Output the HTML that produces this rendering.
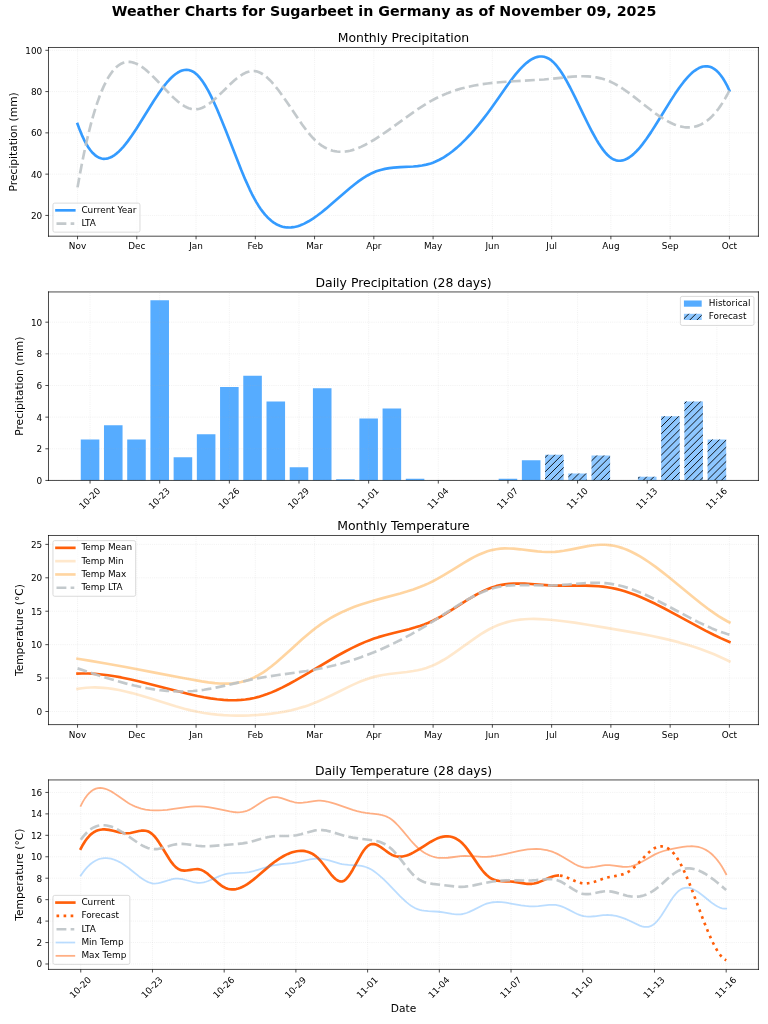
<!DOCTYPE html>
<html lang="en"><head><meta charset="utf-8"><title>Weather Charts for Sugarbeet in Germany</title>
<style>html,body{margin:0;padding:0;background:#fff;font-family:"DejaVu Sans","Liberation Sans",sans-serif}svg{display:block;will-change:transform}</style></head>
<body>
<svg width="768" height="1024" viewBox="0 0 864 1152">
 
 <defs>
  <style type="text/css">*{stroke-linejoin: round; stroke-linecap: butt}</style>
 </defs>
 <g id="figure_1">
  <g id="patch_1">
   <path d="M 0 1152  L 864 1152  L 864 0  L 0 0  z
" style="fill: #ffffff"/>
  </g>
  <g id="axes_1">
   <g id="patch_2">
    <path d="M 54.56 265.72  L 853.25 265.72  L 853.25 53.43  L 54.56 53.43  z
" style="fill: #ffffff"/>
   </g>
   <g id="matplotlib.axis_1">
    <g id="xtick_1">
     <g id="line2d_1">
      <path d="M 87.23 265.72  L 87.23 53.43 
" clip-path="url(#p1e38fe8f11)" style="fill: none; stroke-dasharray: 0.8,1.32; stroke-dashoffset: 0; stroke: #b0b0b0; stroke-opacity: 0.3; stroke-width: 0.8"/>
     </g>
     <g id="line2d_2">
      
      <g>
       <path d="M 0 0  L 0 3.5" transform="translate(87.23 265.72)" style="stroke: #000000; stroke-width: 0.8"/>
      </g>
     </g>
     <g id="text_1">
      <text style="font-size: 10px; font-family: 'DejaVu Sans', 'Liberation Sans', sans-serif; text-anchor: middle" x="87.23" y="280.32" transform="rotate(-0 87.23 280.32)" textLength="19.52">Nov</text>
     </g>
    </g>
    <g id="xtick_2">
     <g id="line2d_3">
      <path d="M 153.89 265.72  L 153.89 53.43 
" clip-path="url(#p1e38fe8f11)" style="fill: none; stroke-dasharray: 0.8,1.32; stroke-dashoffset: 0; stroke: #b0b0b0; stroke-opacity: 0.3; stroke-width: 0.8"/>
     </g>
     <g id="line2d_4">
      <g>
       <path d="M 0 0  L 0 3.5" transform="translate(153.89 265.72)" style="stroke: #000000; stroke-width: 0.8"/>
      </g>
     </g>
     <g id="text_2">
      <text style="font-size: 10px; font-family: 'DejaVu Sans', 'Liberation Sans', sans-serif; text-anchor: middle" x="153.89" y="280.32" transform="rotate(-0 153.89 280.32)" textLength="19.35">Dec</text>
     </g>
    </g>
    <g id="xtick_3">
     <g id="line2d_5">
      <path d="M 220.56 265.72  L 220.56 53.43 
" clip-path="url(#p1e38fe8f11)" style="fill: none; stroke-dasharray: 0.8,1.32; stroke-dashoffset: 0; stroke: #b0b0b0; stroke-opacity: 0.3; stroke-width: 0.8"/>
     </g>
     <g id="line2d_6">
      <g>
       <path d="M 0 0  L 0 3.5" transform="translate(220.56 265.72)" style="stroke: #000000; stroke-width: 0.8"/>
      </g>
     </g>
     <g id="text_3">
      <text style="font-size: 10px; font-family: 'DejaVu Sans', 'Liberation Sans', sans-serif; text-anchor: middle" x="220.56" y="280.32" transform="rotate(-0 220.56 280.32)" textLength="15.42">Jan</text>
     </g>
    </g>
    <g id="xtick_4">
     <g id="line2d_7">
      <path d="M 287.23 265.72  L 287.23 53.43 
" clip-path="url(#p1e38fe8f11)" style="fill: none; stroke-dasharray: 0.8,1.32; stroke-dashoffset: 0; stroke: #b0b0b0; stroke-opacity: 0.3; stroke-width: 0.8"/>
     </g>
     <g id="line2d_8">
      <g>
       <path d="M 0 0  L 0 3.5" transform="translate(287.23 265.72)" style="stroke: #000000; stroke-width: 0.8"/>
      </g>
     </g>
     <g id="text_4">
      <text style="font-size: 10px; font-family: 'DejaVu Sans', 'Liberation Sans', sans-serif; text-anchor: middle" x="287.23" y="280.32" transform="rotate(-0 287.23 280.32)" textLength="17.71">Feb</text>
     </g>
    </g>
    <g id="xtick_5">
     <g id="line2d_9">
      <path d="M 353.90 265.72  L 353.90 53.43 
" clip-path="url(#p1e38fe8f11)" style="fill: none; stroke-dasharray: 0.8,1.32; stroke-dashoffset: 0; stroke: #b0b0b0; stroke-opacity: 0.3; stroke-width: 0.8"/>
     </g>
     <g id="line2d_10">
      <g>
       <path d="M 0 0  L 0 3.5" transform="translate(353.90 265.72)" style="stroke: #000000; stroke-width: 0.8"/>
      </g>
     </g>
     <g id="text_5">
      <text style="font-size: 10px; font-family: 'DejaVu Sans', 'Liberation Sans', sans-serif; text-anchor: middle" x="353.90" y="280.32" transform="rotate(-0 353.90 280.32)" textLength="18.87">Mar</text>
     </g>
    </g>
    <g id="xtick_6">
     <g id="line2d_11">
      <path d="M 420.57 265.72  L 420.57 53.43 
" clip-path="url(#p1e38fe8f11)" style="fill: none; stroke-dasharray: 0.8,1.32; stroke-dashoffset: 0; stroke: #b0b0b0; stroke-opacity: 0.3; stroke-width: 0.8"/>
     </g>
     <g id="line2d_12">
      <g>
       <path d="M 0 0  L 0 3.5" transform="translate(420.57 265.72)" style="stroke: #000000; stroke-width: 0.8"/>
      </g>
     </g>
     <g id="text_6">
      <text style="font-size: 10px; font-family: 'DejaVu Sans', 'Liberation Sans', sans-serif; text-anchor: middle" x="420.57" y="280.32" transform="rotate(-0 420.57 280.32)" textLength="17.30">Apr</text>
     </g>
    </g>
    <g id="xtick_7">
     <g id="line2d_13">
      <path d="M 487.24 265.72  L 487.24 53.43 
" clip-path="url(#p1e38fe8f11)" style="fill: none; stroke-dasharray: 0.8,1.32; stroke-dashoffset: 0; stroke: #b0b0b0; stroke-opacity: 0.3; stroke-width: 0.8"/>
     </g>
     <g id="line2d_14">
      <g>
       <path d="M 0 0  L 0 3.5" transform="translate(487.24 265.72)" style="stroke: #000000; stroke-width: 0.8"/>
      </g>
     </g>
     <g id="text_7">
      <text style="font-size: 10px; font-family: 'DejaVu Sans', 'Liberation Sans', sans-serif; text-anchor: middle" x="487.24" y="280.32" transform="rotate(-0 487.24 280.32)" textLength="20.67">May</text>
     </g>
    </g>
    <g id="xtick_8">
     <g id="line2d_15">
      <path d="M 553.91 265.72  L 553.91 53.43 
" clip-path="url(#p1e38fe8f11)" style="fill: none; stroke-dasharray: 0.8,1.32; stroke-dashoffset: 0; stroke: #b0b0b0; stroke-opacity: 0.3; stroke-width: 0.8"/>
     </g>
     <g id="line2d_16">
      <g>
       <path d="M 0 0  L 0 3.5" transform="translate(553.91 265.72)" style="stroke: #000000; stroke-width: 0.8"/>
      </g>
     </g>
     <g id="text_8">
      <text style="font-size: 10px; font-family: 'DejaVu Sans', 'Liberation Sans', sans-serif; text-anchor: middle" x="553.91" y="280.32" transform="rotate(-0 553.91 280.32)" textLength="15.63">Jun</text>
     </g>
    </g>
    <g id="xtick_9">
     <g id="line2d_17">
      <path d="M 620.58 265.72  L 620.58 53.43 
" clip-path="url(#p1e38fe8f11)" style="fill: none; stroke-dasharray: 0.8,1.32; stroke-dashoffset: 0; stroke: #b0b0b0; stroke-opacity: 0.3; stroke-width: 0.8"/>
     </g>
     <g id="line2d_18">
      <g>
       <path d="M 0 0  L 0 3.5" transform="translate(620.58 265.72)" style="stroke: #000000; stroke-width: 0.8"/>
      </g>
     </g>
     <g id="text_9">
      <text style="font-size: 10px; font-family: 'DejaVu Sans', 'Liberation Sans', sans-serif; text-anchor: middle" x="620.58" y="280.32" transform="rotate(-0 620.58 280.32)" textLength="12.07">Jul</text>
     </g>
    </g>
    <g id="xtick_10">
     <g id="line2d_19">
      <path d="M 687.25 265.72  L 687.25 53.43 
" clip-path="url(#p1e38fe8f11)" style="fill: none; stroke-dasharray: 0.8,1.32; stroke-dashoffset: 0; stroke: #b0b0b0; stroke-opacity: 0.3; stroke-width: 0.8"/>
     </g>
     <g id="line2d_20">
      <g>
       <path d="M 0 0  L 0 3.5" transform="translate(687.25 265.72)" style="stroke: #000000; stroke-width: 0.8"/>
      </g>
     </g>
     <g id="text_10">
      <text style="font-size: 10px; font-family: 'DejaVu Sans', 'Liberation Sans', sans-serif; text-anchor: middle" x="687.25" y="280.32" transform="rotate(-0 687.25 280.32)" textLength="19.53">Aug</text>
     </g>
    </g>
    <g id="xtick_11">
     <g id="line2d_21">
      <path d="M 753.91 265.72  L 753.91 53.43 
" clip-path="url(#p1e38fe8f11)" style="fill: none; stroke-dasharray: 0.8,1.32; stroke-dashoffset: 0; stroke: #b0b0b0; stroke-opacity: 0.3; stroke-width: 0.8"/>
     </g>
     <g id="line2d_22">
      <g>
       <path d="M 0 0  L 0 3.5" transform="translate(753.91 265.72)" style="stroke: #000000; stroke-width: 0.8"/>
      </g>
     </g>
     <g id="text_11">
      <text style="font-size: 10px; font-family: 'DejaVu Sans', 'Liberation Sans', sans-serif; text-anchor: middle" x="753.91" y="280.32" transform="rotate(-0 753.91 280.32)" textLength="18.85">Sep</text>
     </g>
    </g>
    <g id="xtick_12">
     <g id="line2d_23">
      <path d="M 820.58 265.72  L 820.58 53.43 
" clip-path="url(#p1e38fe8f11)" style="fill: none; stroke-dasharray: 0.8,1.32; stroke-dashoffset: 0; stroke: #b0b0b0; stroke-opacity: 0.3; stroke-width: 0.8"/>
     </g>
     <g id="line2d_24">
      <g>
       <path d="M 0 0  L 0 3.5" transform="translate(820.58 265.72)" style="stroke: #000000; stroke-width: 0.8"/>
      </g>
     </g>
     <g id="text_12">
      <text style="font-size: 10px; font-family: 'DejaVu Sans', 'Liberation Sans', sans-serif; text-anchor: middle" x="820.58" y="280.32" transform="rotate(-0 820.58 280.32)" textLength="17.29">Oct</text>
     </g>
    </g>
   </g>
   <g id="matplotlib.axis_2">
    <g id="ytick_1">
     <g id="line2d_25">
      <path d="M 54.56 242.36  L 853.25 242.36 
" clip-path="url(#p1e38fe8f11)" style="fill: none; stroke-dasharray: 0.8,1.32; stroke-dashoffset: 0; stroke: #b0b0b0; stroke-opacity: 0.3; stroke-width: 0.8"/>
     </g>
     <g id="line2d_26">
      
      <g>
       <path d="M 0 0  L -3.5 0" transform="translate(54.56 242.36)" style="stroke: #000000; stroke-width: 0.8"/>
      </g>
     </g>
     <g id="text_13">
      <text style="font-size: 10px; font-family: 'DejaVu Sans', 'Liberation Sans', sans-serif; text-anchor: end" x="47.56" y="246.16" transform="rotate(-0 47.56 246.16)" textLength="12.72">20</text>
     </g>
    </g>
    <g id="ytick_2">
     <g id="line2d_27">
      <path d="M 54.56 195.92  L 853.25 195.92 
" clip-path="url(#p1e38fe8f11)" style="fill: none; stroke-dasharray: 0.8,1.32; stroke-dashoffset: 0; stroke: #b0b0b0; stroke-opacity: 0.3; stroke-width: 0.8"/>
     </g>
     <g id="line2d_28">
      <g>
       <path d="M 0 0  L -3.5 0" transform="translate(54.56 195.92)" style="stroke: #000000; stroke-width: 0.8"/>
      </g>
     </g>
     <g id="text_14">
      <text style="font-size: 10px; font-family: 'DejaVu Sans', 'Liberation Sans', sans-serif; text-anchor: end" x="47.56" y="199.72" transform="rotate(-0 47.56 199.72)" textLength="12.72">40</text>
     </g>
    </g>
    <g id="ytick_3">
     <g id="line2d_29">
      <path d="M 54.56 149.48  L 853.25 149.48 
" clip-path="url(#p1e38fe8f11)" style="fill: none; stroke-dasharray: 0.8,1.32; stroke-dashoffset: 0; stroke: #b0b0b0; stroke-opacity: 0.3; stroke-width: 0.8"/>
     </g>
     <g id="line2d_30">
      <g>
       <path d="M 0 0  L -3.5 0" transform="translate(54.56 149.48)" style="stroke: #000000; stroke-width: 0.8"/>
      </g>
     </g>
     <g id="text_15">
      <text style="font-size: 10px; font-family: 'DejaVu Sans', 'Liberation Sans', sans-serif; text-anchor: end" x="47.56" y="153.27" transform="rotate(-0 47.56 153.27)" textLength="12.72">60</text>
     </g>
    </g>
    <g id="ytick_4">
     <g id="line2d_31">
      <path d="M 54.56 103.03  L 853.25 103.03 
" clip-path="url(#p1e38fe8f11)" style="fill: none; stroke-dasharray: 0.8,1.32; stroke-dashoffset: 0; stroke: #b0b0b0; stroke-opacity: 0.3; stroke-width: 0.8"/>
     </g>
     <g id="line2d_32">
      <g>
       <path d="M 0 0  L -3.5 0" transform="translate(54.56 103.03)" style="stroke: #000000; stroke-width: 0.8"/>
      </g>
     </g>
     <g id="text_16">
      <text style="font-size: 10px; font-family: 'DejaVu Sans', 'Liberation Sans', sans-serif; text-anchor: end" x="47.56" y="106.83" transform="rotate(-0 47.56 106.83)" textLength="12.72">80</text>
     </g>
    </g>
    <g id="ytick_5">
     <g id="line2d_33">
      <path d="M 54.56 56.59  L 853.25 56.59 
" clip-path="url(#p1e38fe8f11)" style="fill: none; stroke-dasharray: 0.8,1.32; stroke-dashoffset: 0; stroke: #b0b0b0; stroke-opacity: 0.3; stroke-width: 0.8"/>
     </g>
     <g id="line2d_34">
      <g>
       <path d="M 0 0  L -3.5 0" transform="translate(54.56 56.59)" style="stroke: #000000; stroke-width: 0.8"/>
      </g>
     </g>
     <g id="text_17">
      <text style="font-size: 10px; font-family: 'DejaVu Sans', 'Liberation Sans', sans-serif; text-anchor: end" x="47.56" y="60.39" transform="rotate(-0 47.56 60.39)" textLength="19.09">100</text>
     </g>
    </g>
    <g id="text_18">
     <text style="font-size: 12px; font-family: 'DejaVu Sans', 'Liberation Sans', sans-serif; text-anchor: middle" x="18.97" y="159.58" transform="rotate(-90 18.97 159.58)" textLength="111.57">Precipitation (mm)</text>
    </g>
   </g>
   <g id="line2d_35">
    <path d="M 87.23 139.49  L 89.68 146.09  L 92.13 152.00  L 94.58 157.26  L 97.04 161.88  L 99.49 165.89  L 101.94 169.31  L 104.39 172.16  L 106.85 174.47  L 109.30 176.25  L 111.75 177.54  L 114.21 178.35  L 116.66 178.70  L 119.11 178.62  L 121.56 178.14  L 124.02 177.26  L 126.47 176.02  L 128.92 174.44  L 131.37 172.54  L 133.83 170.35  L 136.28 167.88  L 138.73 165.16  L 141.18 162.21  L 143.64 159.06  L 148.54 152.22  L 153.45 144.83  L 160.81 133.10  L 173.07 113.35  L 177.98 105.91  L 182.88 98.99  L 185.33 95.79  L 187.79 92.79  L 190.24 90.02  L 192.69 87.49  L 195.14 85.22  L 197.60 83.25  L 200.05 81.59  L 202.50 80.27  L 204.96 79.31  L 207.41 78.73  L 209.86 78.55  L 212.31 78.80  L 214.77 79.50  L 217.22 80.67  L 219.67 82.33  L 222.12 84.51  L 224.58 87.19  L 227.03 90.35  L 229.48 93.94  L 231.93 97.94  L 234.39 102.32  L 236.84 107.03  L 239.29 112.06  L 244.20 122.91  L 249.10 134.60  L 254.01 146.88  L 271.18 190.71  L 276.08 202.40  L 280.99 213.24  L 283.44 218.27  L 285.89 222.98  L 288.35 227.35  L 290.80 231.37  L 293.25 235.04  L 295.71 238.38  L 298.16 241.40  L 300.61 244.09  L 303.06 246.49  L 305.52 248.59  L 307.97 250.40  L 310.42 251.94  L 312.87 253.22  L 315.33 254.24  L 317.78 255.02  L 320.23 255.56  L 322.68 255.88  L 325.14 255.98  L 327.59 255.88  L 330.04 255.59  L 332.50 255.12  L 334.95 254.46  L 337.40 253.65  L 339.85 252.68  L 342.31 251.57  L 347.21 248.96  L 352.12 245.89  L 357.02 242.45  L 361.93 238.71  L 366.83 234.73  L 374.19 228.46  L 393.81 211.49  L 398.72 207.54  L 403.62 203.83  L 408.53 200.44  L 413.43 197.42  L 418.34 194.84  L 420.79 193.73  L 423.25 192.76  L 428.15 191.17  L 433.06 190.00  L 437.96 189.17  L 442.87 188.60  L 450.23 188.08  L 464.94 187.32  L 469.85 186.86  L 474.75 186.18  L 479.66 185.20  L 484.56 183.84  L 487.02 183.00  L 489.47 182.03  L 494.37 179.74  L 499.28 176.98  L 504.18 173.77  L 509.09 170.13  L 514.00 166.08  L 518.90 161.63  L 523.81 156.81  L 528.71 151.62  L 533.62 146.09  L 538.52 140.24  L 543.43 134.08  L 548.33 127.64  L 553.24 120.92  L 560.60 110.44  L 570.41 96.41  L 575.31 89.73  L 580.22 83.47  L 585.12 77.79  L 587.58 75.22  L 590.03 72.85  L 592.48 70.71  L 594.93 68.80  L 597.39 67.16  L 599.84 65.80  L 602.29 64.74  L 604.75 63.99  L 607.20 63.59  L 609.65 63.55  L 612.10 63.88  L 614.56 64.61  L 617.01 65.75  L 619.46 67.33  L 621.91 69.37  L 624.37 71.85  L 626.82 74.73  L 629.27 78.00  L 631.73 81.60  L 634.18 85.51  L 636.63 89.69  L 641.54 98.72  L 646.44 108.41  L 656.25 128.67  L 661.16 138.68  L 666.06 148.24  L 670.97 157.07  L 673.42 161.12  L 675.87 164.88  L 678.33 168.33  L 680.78 171.41  L 683.23 174.10  L 685.68 176.37  L 688.14 178.17  L 690.59 179.50  L 693.04 180.38  L 695.50 180.82  L 697.95 180.84  L 700.40 180.47  L 702.85 179.72  L 705.31 178.62  L 707.76 177.18  L 710.21 175.43  L 712.66 173.39  L 715.12 171.07  L 717.57 168.50  L 720.02 165.70  L 722.48 162.69  L 727.38 156.10  L 732.29 148.92  L 737.19 141.29  L 744.55 129.38  L 754.36 113.47  L 759.27 105.87  L 764.17 98.73  L 769.08 92.20  L 771.53 89.22  L 773.98 86.46  L 776.43 83.93  L 778.89 81.65  L 781.34 79.65  L 783.79 77.95  L 786.25 76.57  L 788.70 75.52  L 791.15 74.83  L 793.60 74.52  L 796.06 74.61  L 798.51 75.11  L 800.96 76.06  L 803.41 77.46  L 805.87 79.35  L 808.32 81.73  L 810.77 84.64  L 813.23 88.08  L 815.68 92.09  L 818.13 96.68  L 820.58 101.87  L 820.58 101.87 
" clip-path="url(#p1e38fe8f11)" style="fill: none; stroke: #1e90ff; stroke-opacity: 0.9; stroke-width: 3; stroke-linecap: square"/>
   </g>
   <g id="line2d_36">
    <path d="M 87.23 210.78  L 89.68 197.07  L 92.13 184.22  L 94.58 172.18  L 97.04 160.94  L 99.49 150.49  L 101.94 140.78  L 104.39 131.81  L 106.85 123.55  L 109.30 115.98  L 111.75 109.07  L 114.21 102.81  L 116.66 97.17  L 119.11 92.12  L 121.56 87.65  L 124.02 83.74  L 126.47 80.35  L 128.92 77.47  L 131.37 75.08  L 133.83 73.15  L 136.28 71.67  L 138.73 70.60  L 141.18 69.92  L 143.64 69.62  L 146.09 69.68  L 148.54 70.06  L 151.00 70.74  L 153.45 71.71  L 155.90 72.94  L 158.35 74.41  L 160.81 76.10  L 163.26 77.98  L 165.71 80.03  L 170.62 84.55  L 175.52 89.50  L 192.69 107.47  L 197.60 112.06  L 200.05 114.15  L 202.50 116.08  L 204.96 117.82  L 207.41 119.34  L 209.86 120.64  L 212.31 121.68  L 214.77 122.44  L 217.22 122.90  L 219.67 123.04  L 222.12 122.83  L 224.58 122.29  L 227.03 121.44  L 229.48 120.31  L 231.93 118.93  L 234.39 117.32  L 236.84 115.51  L 239.29 113.53  L 244.20 109.17  L 249.10 104.45  L 258.91 94.82  L 263.82 90.36  L 266.27 88.31  L 268.73 86.41  L 271.18 84.71  L 273.63 83.21  L 276.08 81.96  L 278.54 80.97  L 280.99 80.28  L 283.44 79.91  L 285.89 79.90  L 288.35 80.26  L 290.80 81.00  L 293.25 82.10  L 295.71 83.53  L 298.16 85.28  L 300.61 87.31  L 303.06 89.61  L 305.52 92.15  L 307.97 94.91  L 312.87 101.00  L 317.78 107.67  L 322.68 114.76  L 339.85 140.05  L 344.76 146.65  L 347.21 149.72  L 349.66 152.62  L 352.12 155.32  L 354.57 157.79  L 357.02 160.02  L 359.48 162.02  L 361.93 163.79  L 364.38 165.34  L 366.83 166.68  L 369.29 167.82  L 371.74 168.76  L 374.19 169.51  L 376.64 170.07  L 379.10 170.46  L 381.55 170.69  L 384.00 170.75  L 386.46 170.65  L 388.91 170.41  L 391.36 170.03  L 393.81 169.52  L 396.27 168.89  L 401.17 167.27  L 406.08 165.23  L 410.98 162.85  L 415.89 160.16  L 420.79 157.23  L 428.15 152.50  L 435.51 147.47  L 445.32 140.46  L 464.94 126.35  L 472.30 121.36  L 479.66 116.69  L 484.56 113.80  L 489.47 111.14  L 494.37 108.71  L 499.28 106.50  L 504.18 104.50  L 509.09 102.70  L 514.00 101.08  L 518.90 99.64  L 526.26 97.77  L 533.62 96.22  L 540.98 94.95  L 548.33 93.92  L 555.69 93.10  L 565.50 92.23  L 577.77 91.43  L 612.10 89.39  L 621.91 88.50  L 643.99 86.21  L 651.35 85.80  L 656.25 85.75  L 661.16 85.91  L 666.06 86.34  L 670.97 87.06  L 675.87 88.13  L 680.78 89.57  L 685.68 91.43  L 690.59 93.75  L 695.50 96.49  L 700.40 99.58  L 705.31 102.97  L 712.66 108.46  L 724.93 118.10  L 732.29 123.81  L 737.19 127.46  L 742.10 130.89  L 747.00 134.03  L 751.91 136.83  L 756.81 139.22  L 759.27 140.24  L 761.72 141.12  L 764.17 141.87  L 766.62 142.48  L 769.08 142.93  L 771.53 143.22  L 773.98 143.33  L 776.43 143.27  L 778.89 143.02  L 781.34 142.57  L 783.79 141.92  L 786.25 141.05  L 788.70 139.97  L 791.15 138.65  L 793.60 137.10  L 796.06 135.30  L 798.51 133.24  L 800.96 130.92  L 803.41 128.33  L 805.87 125.46  L 808.32 122.30  L 810.77 118.84  L 813.23 115.08  L 815.68 111.00  L 818.13 106.60  L 820.58 101.87  L 820.58 101.87 
" clip-path="url(#p1e38fe8f11)" style="fill: none; stroke-dasharray: 11.1,4.8; stroke-dashoffset: 0; stroke: #bdc3c7; stroke-opacity: 0.9; stroke-width: 3"/>
   </g>
   <g id="patch_3">
    <path d="M 54.56 265.72  L 54.56 53.43 
" style="fill: none; stroke: #000000; stroke-width: 0.8; stroke-linejoin: miter; stroke-linecap: square"/>
   </g>
   <g id="patch_4">
    <path d="M 853.25 265.72  L 853.25 53.43 
" style="fill: none; stroke: #000000; stroke-width: 0.8; stroke-linejoin: miter; stroke-linecap: square"/>
   </g>
   <g id="patch_5">
    <path d="M 54.56 265.72  L 853.25 265.72 
" style="fill: none; stroke: #000000; stroke-width: 0.8; stroke-linejoin: miter; stroke-linecap: square"/>
   </g>
   <g id="patch_6">
    <path d="M 54.56 53.43  L 853.25 53.43 
" style="fill: none; stroke: #000000; stroke-width: 0.8; stroke-linejoin: miter; stroke-linecap: square"/>
   </g>
   <g id="text_19">
    <text style="font-size: 14px; font-family: 'DejaVu Sans', 'Liberation Sans', sans-serif; text-anchor: middle" x="453.90" y="47.43" transform="rotate(-0 453.90 47.43)" textLength="148.01">Monthly Precipitation</text>
   </g>
   <g id="legend_1">
    <g id="patch_7">
     <path d="M 61.56 261.17  L 155.46 261.17 
Q 157.46 261.17 157.46 259.17  L 157.46 230.51 
Q 157.46 228.51 155.46 228.51  L 61.56 228.51 
Q 59.56 228.51 59.56 230.51  L 59.56 259.17 
Q 59.56 261.17 61.56 261.17  z
" style="fill: #ffffff; opacity: 0.8; stroke: #cccccc; stroke-linejoin: miter"/>
    </g>
    <g id="line2d_37">
     <path d="M 63.56 236.61  L 73.56 236.61  L 83.56 236.61 
" style="fill: none; stroke: #1e90ff; stroke-opacity: 0.9; stroke-width: 3; stroke-linecap: square"/>
    </g>
    <g id="text_20">
     <text style="font-size: 10px; font-family: 'DejaVu Sans', 'Liberation Sans', sans-serif; text-anchor: start" x="91.56" y="239.32" transform="rotate(-0 91.56 240.11)" textLength="61.91">Current Year</text>
    </g>
    <g id="line2d_38">
     <path d="M 63.56 251.59  L 73.56 251.59  L 83.56 251.59 
" style="fill: none; stroke-dasharray: 11.1,4.8; stroke-dashoffset: 0; stroke: #bdc3c7; stroke-opacity: 0.9; stroke-width: 3"/>
    </g>
    <g id="text_21">
     <text style="font-size: 10px; font-family: 'DejaVu Sans', 'Liberation Sans', sans-serif; text-anchor: start" x="91.56" y="254.30" transform="rotate(-0 91.56 255.09)" textLength="16.37">LTA</text>
    </g>
   </g>
  </g>
  <g id="axes_2">
   <g id="patch_8">
    <path d="M 54.56 540.50  L 853.25 540.50  L 853.25 328.44  L 54.56 328.44  z
" style="fill: #ffffff"/>
   </g>
   <g id="patch_9">
    <path d="M 90.86 540.50  L 111.76 540.50  L 111.76 494.39  L 90.86 494.39  z
" clip-path="url(#p7bbfe27c33)" style="fill: #1e90ff; opacity: 0.75"/>
   </g>
   <g id="patch_10">
    <path d="M 116.98 540.50  L 137.87 540.50  L 137.87 478.54  L 116.98 478.54  z
" clip-path="url(#p7bbfe27c33)" style="fill: #1e90ff; opacity: 0.75"/>
   </g>
   <g id="patch_11">
    <path d="M 143.10 540.50  L 163.99 540.50  L 163.99 494.39  L 143.10 494.39  z
" clip-path="url(#p7bbfe27c33)" style="fill: #1e90ff; opacity: 0.75"/>
   </g>
   <g id="patch_12">
    <path d="M 169.22 540.50  L 190.11 540.50  L 190.11 337.70  L 169.22 337.70  z
" clip-path="url(#p7bbfe27c33)" style="fill: #1e90ff; opacity: 0.75"/>
   </g>
   <g id="patch_13">
    <path d="M 195.33 540.50  L 216.23 540.50  L 216.23 514.33  L 195.33 514.33  z
" clip-path="url(#p7bbfe27c33)" style="fill: #1e90ff; opacity: 0.75"/>
   </g>
   <g id="patch_14">
    <path d="M 221.45 540.50  L 242.35 540.50  L 242.35 488.51  L 221.45 488.51  z
" clip-path="url(#p7bbfe27c33)" style="fill: #1e90ff; opacity: 0.75"/>
   </g>
   <g id="patch_15">
    <path d="M 247.57 540.50  L 268.47 540.50  L 268.47 435.45  L 247.57 435.45  z
" clip-path="url(#p7bbfe27c33)" style="fill: #1e90ff; opacity: 0.75"/>
   </g>
   <g id="patch_16">
    <path d="M 273.69 540.50  L 294.58 540.50  L 294.58 422.63  L 273.69 422.63  z
" clip-path="url(#p7bbfe27c33)" style="fill: #1e90ff; opacity: 0.75"/>
   </g>
   <g id="patch_17">
    <path d="M 299.81 540.50  L 320.70 540.50  L 320.70 451.65  L 299.81 451.65  z
" clip-path="url(#p7bbfe27c33)" style="fill: #1e90ff; opacity: 0.75"/>
   </g>
   <g id="patch_18">
    <path d="M 325.93 540.50  L 346.82 540.50  L 346.82 525.54  L 325.93 525.54  z
" clip-path="url(#p7bbfe27c33)" style="fill: #1e90ff; opacity: 0.75"/>
   </g>
   <g id="patch_19">
    <path d="M 352.04 540.50  L 372.94 540.50  L 372.94 436.70  L 352.04 436.70  z
" clip-path="url(#p7bbfe27c33)" style="fill: #1e90ff; opacity: 0.75"/>
   </g>
   <g id="patch_20">
    <path d="M 378.16 540.50  L 399.06 540.50  L 399.06 539.25  L 378.16 539.25  z
" clip-path="url(#p7bbfe27c33)" style="fill: #1e90ff; opacity: 0.75"/>
   </g>
   <g id="patch_21">
    <path d="M 404.28 540.50  L 425.17 540.50  L 425.17 470.70  L 404.28 470.70  z
" clip-path="url(#p7bbfe27c33)" style="fill: #1e90ff; opacity: 0.75"/>
   </g>
   <g id="patch_22">
    <path d="M 430.40 540.50  L 451.29 540.50  L 451.29 459.49  L 430.40 459.49  z
" clip-path="url(#p7bbfe27c33)" style="fill: #1e90ff; opacity: 0.75"/>
   </g>
   <g id="patch_23">
    <path d="M 456.52 540.50  L 477.41 540.50  L 477.41 538.72  L 456.52 538.72  z
" clip-path="url(#p7bbfe27c33)" style="fill: #1e90ff; opacity: 0.75"/>
   </g>
   <g id="patch_24">
    <path d="M 482.63 540.50  L 503.53 540.50  L 503.53 540.50  L 482.63 540.50  z
" clip-path="url(#p7bbfe27c33)" style="fill: #1e90ff; opacity: 0.75"/>
   </g>
   <g id="patch_25">
    <path d="M 508.75 540.50  L 529.65 540.50  L 529.65 540.50  L 508.75 540.50  z
" clip-path="url(#p7bbfe27c33)" style="fill: #1e90ff; opacity: 0.75"/>
   </g>
   <g id="patch_26">
    <path d="M 534.87 540.50  L 555.77 540.50  L 555.77 540.50  L 534.87 540.50  z
" clip-path="url(#p7bbfe27c33)" style="fill: #1e90ff; opacity: 0.75"/>
   </g>
   <g id="patch_27">
    <path d="M 560.99 540.50  L 581.88 540.50  L 581.88 538.72  L 560.99 538.72  z
" clip-path="url(#p7bbfe27c33)" style="fill: #1e90ff; opacity: 0.75"/>
   </g>
   <g id="patch_28">
    <path d="M 587.11 540.50  L 608.00 540.50  L 608.00 517.71  L 587.11 517.71  z
" clip-path="url(#p7bbfe27c33)" style="fill: #1e90ff; opacity: 0.75"/>
   </g>
   <g id="patch_29">
    <path d="M 613.23 540.50  L 634.12 540.50  L 634.12 511.48  L 613.23 511.48  z
" clip-path="url(#p7bbfe27c33)" style="fill: #1e90ff; opacity: 0.5"/>
   </g>
   <g id="patch_30">
    <path d="M 639.34 540.50  L 660.24 540.50  L 660.24 532.67  L 639.34 532.67  z
" clip-path="url(#p7bbfe27c33)" style="fill: #1e90ff; opacity: 0.5"/>
   </g>
   <g id="patch_31">
    <path d="M 665.46 540.50  L 686.36 540.50  L 686.36 512.37  L 665.46 512.37  z
" clip-path="url(#p7bbfe27c33)" style="fill: #1e90ff; opacity: 0.5"/>
   </g>
   <g id="patch_32">
    <path d="M 691.58 540.50  L 712.47 540.50  L 712.47 540.50  L 691.58 540.50  z
" clip-path="url(#p7bbfe27c33)" style="fill: #1e90ff; opacity: 0.5"/>
   </g>
   <g id="patch_33">
    <path d="M 717.70 540.50  L 738.59 540.50  L 738.59 536.41  L 717.70 536.41  z
" clip-path="url(#p7bbfe27c33)" style="fill: #1e90ff; opacity: 0.5"/>
   </g>
   <g id="patch_34">
    <path d="M 743.82 540.50  L 764.71 540.50  L 764.71 468.39  L 743.82 468.39  z
" clip-path="url(#p7bbfe27c33)" style="fill: #1e90ff; opacity: 0.5"/>
   </g>
   <g id="patch_35">
    <path d="M 769.93 540.50  L 790.83 540.50  L 790.83 451.65  L 769.93 451.65  z
" clip-path="url(#p7bbfe27c33)" style="fill: #1e90ff; opacity: 0.5"/>
   </g>
   <g id="patch_36">
    <path d="M 796.05 540.50  L 816.95 540.50  L 816.95 494.39  L 796.05 494.39  z
" clip-path="url(#p7bbfe27c33)" style="fill: #1e90ff; opacity: 0.5"/>
   </g>
   <g id="patch_37">
    <path d="M 613.23 540.50  L 634.12 540.50  L 634.12 511.48  L 613.23 511.48  z
" clip-path="url(#p7bbfe27c33)" style="fill: url(#h9332872984)"/>
   </g>
   <g id="patch_38">
    <path d="M 639.34 540.50  L 660.24 540.50  L 660.24 532.67  L 639.34 532.67  z
" clip-path="url(#p7bbfe27c33)" style="fill: url(#h9332872984)"/>
   </g>
   <g id="patch_39">
    <path d="M 665.46 540.50  L 686.36 540.50  L 686.36 512.37  L 665.46 512.37  z
" clip-path="url(#p7bbfe27c33)" style="fill: url(#h9332872984)"/>
   </g>
   <g id="patch_40">
    <path d="M 691.58 540.50  L 712.47 540.50  L 712.47 540.50  L 691.58 540.50  z
" clip-path="url(#p7bbfe27c33)" style="fill: url(#h9332872984)"/>
   </g>
   <g id="patch_41">
    <path d="M 717.70 540.50  L 738.59 540.50  L 738.59 536.41  L 717.70 536.41  z
" clip-path="url(#p7bbfe27c33)" style="fill: url(#h9332872984)"/>
   </g>
   <g id="patch_42">
    <path d="M 743.82 540.50  L 764.71 540.50  L 764.71 468.39  L 743.82 468.39  z
" clip-path="url(#p7bbfe27c33)" style="fill: url(#h9332872984)"/>
   </g>
   <g id="patch_43">
    <path d="M 769.93 540.50  L 790.83 540.50  L 790.83 451.65  L 769.93 451.65  z
" clip-path="url(#p7bbfe27c33)" style="fill: url(#h9332872984)"/>
   </g>
   <g id="patch_44">
    <path d="M 796.05 540.50  L 816.95 540.50  L 816.95 494.39  L 796.05 494.39  z
" clip-path="url(#p7bbfe27c33)" style="fill: url(#h9332872984)"/>
   </g>
   <g id="matplotlib.axis_3">
    <g id="xtick_13">
     <g id="line2d_39">
      <path d="M 101.31 540.50  L 101.31 328.44 
" clip-path="url(#p7bbfe27c33)" style="fill: none; stroke-dasharray: 0.8,1.32; stroke-dashoffset: 0; stroke: #b0b0b0; stroke-opacity: 0.3; stroke-width: 0.8"/>
     </g>
     <g id="line2d_40">
      <g>
       <path d="M 0 0  L 0 3.5" transform="translate(101.31 540.50)" style="stroke: #000000; stroke-width: 0.8"/>
      </g>
     </g>
     <g id="text_22">
      <text style="font-size: 10px; font-family: 'DejaVu Sans', 'Liberation Sans', sans-serif" transform="translate(92.99 573.42) rotate(-45)" textLength="29.06">10-20</text>
     </g>
    </g>
    <g id="xtick_14">
     <g id="line2d_41">
      <path d="M 179.66 540.50  L 179.66 328.44 
" clip-path="url(#p7bbfe27c33)" style="fill: none; stroke-dasharray: 0.8,1.32; stroke-dashoffset: 0; stroke: #b0b0b0; stroke-opacity: 0.3; stroke-width: 0.8"/>
     </g>
     <g id="line2d_42">
      <g>
       <path d="M 0 0  L 0 3.5" transform="translate(179.66 540.50)" style="stroke: #000000; stroke-width: 0.8"/>
      </g>
     </g>
     <g id="text_23">
      <text style="font-size: 10px; font-family: 'DejaVu Sans', 'Liberation Sans', sans-serif" transform="translate(171.34 573.42) rotate(-45)" textLength="29.06">10-23</text>
     </g>
    </g>
    <g id="xtick_15">
     <g id="line2d_43">
      <path d="M 258.02 540.50  L 258.02 328.44 
" clip-path="url(#p7bbfe27c33)" style="fill: none; stroke-dasharray: 0.8,1.32; stroke-dashoffset: 0; stroke: #b0b0b0; stroke-opacity: 0.3; stroke-width: 0.8"/>
     </g>
     <g id="line2d_44">
      <g>
       <path d="M 0 0  L 0 3.5" transform="translate(258.02 540.50)" style="stroke: #000000; stroke-width: 0.8"/>
      </g>
     </g>
     <g id="text_24">
      <text style="font-size: 10px; font-family: 'DejaVu Sans', 'Liberation Sans', sans-serif" transform="translate(249.70 573.42) rotate(-45)" textLength="29.06">10-26</text>
     </g>
    </g>
    <g id="xtick_16">
     <g id="line2d_45">
      <path d="M 336.37 540.50  L 336.37 328.44 
" clip-path="url(#p7bbfe27c33)" style="fill: none; stroke-dasharray: 0.8,1.32; stroke-dashoffset: 0; stroke: #b0b0b0; stroke-opacity: 0.3; stroke-width: 0.8"/>
     </g>
     <g id="line2d_46">
      <g>
       <path d="M 0 0  L 0 3.5" transform="translate(336.37 540.50)" style="stroke: #000000; stroke-width: 0.8"/>
      </g>
     </g>
     <g id="text_25">
      <text style="font-size: 10px; font-family: 'DejaVu Sans', 'Liberation Sans', sans-serif" transform="translate(328.05 573.42) rotate(-45)" textLength="29.06">10-29</text>
     </g>
    </g>
    <g id="xtick_17">
     <g id="line2d_47">
      <path d="M 414.73 540.50  L 414.73 328.44 
" clip-path="url(#p7bbfe27c33)" style="fill: none; stroke-dasharray: 0.8,1.32; stroke-dashoffset: 0; stroke: #b0b0b0; stroke-opacity: 0.3; stroke-width: 0.8"/>
     </g>
     <g id="line2d_48">
      <g>
       <path d="M 0 0  L 0 3.5" transform="translate(414.73 540.50)" style="stroke: #000000; stroke-width: 0.8"/>
      </g>
     </g>
     <g id="text_26">
      <text style="font-size: 10px; font-family: 'DejaVu Sans', 'Liberation Sans', sans-serif" transform="translate(406.40 573.42) rotate(-45)" textLength="29.06">11-01</text>
     </g>
    </g>
    <g id="xtick_18">
     <g id="line2d_49">
      <path d="M 493.08 540.50  L 493.08 328.44 
" clip-path="url(#p7bbfe27c33)" style="fill: none; stroke-dasharray: 0.8,1.32; stroke-dashoffset: 0; stroke: #b0b0b0; stroke-opacity: 0.3; stroke-width: 0.8"/>
     </g>
     <g id="line2d_50">
      <g>
       <path d="M 0 0  L 0 3.5" transform="translate(493.08 540.50)" style="stroke: #000000; stroke-width: 0.8"/>
      </g>
     </g>
     <g id="text_27">
      <text style="font-size: 10px; font-family: 'DejaVu Sans', 'Liberation Sans', sans-serif" transform="translate(484.76 573.42) rotate(-45)" textLength="29.06">11-04</text>
     </g>
    </g>
    <g id="xtick_19">
     <g id="line2d_51">
      <path d="M 571.44 540.50  L 571.44 328.44 
" clip-path="url(#p7bbfe27c33)" style="fill: none; stroke-dasharray: 0.8,1.32; stroke-dashoffset: 0; stroke: #b0b0b0; stroke-opacity: 0.3; stroke-width: 0.8"/>
     </g>
     <g id="line2d_52">
      <g>
       <path d="M 0 0  L 0 3.5" transform="translate(571.44 540.50)" style="stroke: #000000; stroke-width: 0.8"/>
      </g>
     </g>
     <g id="text_28">
      <text style="font-size: 10px; font-family: 'DejaVu Sans', 'Liberation Sans', sans-serif" transform="translate(563.11 573.42) rotate(-45)" textLength="29.06">11-07</text>
     </g>
    </g>
    <g id="xtick_20">
     <g id="line2d_53">
      <path d="M 649.79 540.50  L 649.79 328.44 
" clip-path="url(#p7bbfe27c33)" style="fill: none; stroke-dasharray: 0.8,1.32; stroke-dashoffset: 0; stroke: #b0b0b0; stroke-opacity: 0.3; stroke-width: 0.8"/>
     </g>
     <g id="line2d_54">
      <g>
       <path d="M 0 0  L 0 3.5" transform="translate(649.79 540.50)" style="stroke: #000000; stroke-width: 0.8"/>
      </g>
     </g>
     <g id="text_29">
      <text style="font-size: 10px; font-family: 'DejaVu Sans', 'Liberation Sans', sans-serif" transform="translate(641.47 573.42) rotate(-45)" textLength="29.06">11-10</text>
     </g>
    </g>
    <g id="xtick_21">
     <g id="line2d_55">
      <path d="M 728.15 540.50  L 728.15 328.44 
" clip-path="url(#p7bbfe27c33)" style="fill: none; stroke-dasharray: 0.8,1.32; stroke-dashoffset: 0; stroke: #b0b0b0; stroke-opacity: 0.3; stroke-width: 0.8"/>
     </g>
     <g id="line2d_56">
      <g>
       <path d="M 0 0  L 0 3.5" transform="translate(728.15 540.50)" style="stroke: #000000; stroke-width: 0.8"/>
      </g>
     </g>
     <g id="text_30">
      <text style="font-size: 10px; font-family: 'DejaVu Sans', 'Liberation Sans', sans-serif" transform="translate(719.82 573.42) rotate(-45)" textLength="29.06">11-13</text>
     </g>
    </g>
    <g id="xtick_22">
     <g id="line2d_57">
      <path d="M 806.50 540.50  L 806.50 328.44 
" clip-path="url(#p7bbfe27c33)" style="fill: none; stroke-dasharray: 0.8,1.32; stroke-dashoffset: 0; stroke: #b0b0b0; stroke-opacity: 0.3; stroke-width: 0.8"/>
     </g>
     <g id="line2d_58">
      <g>
       <path d="M 0 0  L 0 3.5" transform="translate(806.50 540.50)" style="stroke: #000000; stroke-width: 0.8"/>
      </g>
     </g>
     <g id="text_31">
      <text style="font-size: 10px; font-family: 'DejaVu Sans', 'Liberation Sans', sans-serif" transform="translate(798.18 573.42) rotate(-45)" textLength="29.06">11-16</text>
     </g>
    </g>
   </g>
   <g id="matplotlib.axis_4">
    <g id="ytick_6">
     <g id="line2d_59">
      <path d="M 54.56 540.50  L 853.25 540.50 
" clip-path="url(#p7bbfe27c33)" style="fill: none; stroke-dasharray: 0.8,1.32; stroke-dashoffset: 0; stroke: #b0b0b0; stroke-opacity: 0.3; stroke-width: 0.8"/>
     </g>
     <g id="line2d_60">
      <g>
       <path d="M 0 0  L -3.5 0" transform="translate(54.56 540.50)" style="stroke: #000000; stroke-width: 0.8"/>
      </g>
     </g>
     <g id="text_32">
      <text style="font-size: 10px; font-family: 'DejaVu Sans', 'Liberation Sans', sans-serif; text-anchor: end" x="47.56" y="544.30" transform="rotate(-0 47.56 544.30)">0</text>
     </g>
    </g>
    <g id="ytick_7">
     <g id="line2d_61">
      <path d="M 54.56 504.89  L 853.25 504.89 
" clip-path="url(#p7bbfe27c33)" style="fill: none; stroke-dasharray: 0.8,1.32; stroke-dashoffset: 0; stroke: #b0b0b0; stroke-opacity: 0.3; stroke-width: 0.8"/>
     </g>
     <g id="line2d_62">
      <g>
       <path d="M 0 0  L -3.5 0" transform="translate(54.56 504.89)" style="stroke: #000000; stroke-width: 0.8"/>
      </g>
     </g>
     <g id="text_33">
      <text style="font-size: 10px; font-family: 'DejaVu Sans', 'Liberation Sans', sans-serif; text-anchor: end" x="47.56" y="508.69" transform="rotate(-0 47.56 508.69)">2</text>
     </g>
    </g>
    <g id="ytick_8">
     <g id="line2d_63">
      <path d="M 54.56 469.28  L 853.25 469.28 
" clip-path="url(#p7bbfe27c33)" style="fill: none; stroke-dasharray: 0.8,1.32; stroke-dashoffset: 0; stroke: #b0b0b0; stroke-opacity: 0.3; stroke-width: 0.8"/>
     </g>
     <g id="line2d_64">
      <g>
       <path d="M 0 0  L -3.5 0" transform="translate(54.56 469.28)" style="stroke: #000000; stroke-width: 0.8"/>
      </g>
     </g>
     <g id="text_34">
      <text style="font-size: 10px; font-family: 'DejaVu Sans', 'Liberation Sans', sans-serif; text-anchor: end" x="47.56" y="473.08" transform="rotate(-0 47.56 473.08)">4</text>
     </g>
    </g>
    <g id="ytick_9">
     <g id="line2d_65">
      <path d="M 54.56 433.67  L 853.25 433.67 
" clip-path="url(#p7bbfe27c33)" style="fill: none; stroke-dasharray: 0.8,1.32; stroke-dashoffset: 0; stroke: #b0b0b0; stroke-opacity: 0.3; stroke-width: 0.8"/>
     </g>
     <g id="line2d_66">
      <g>
       <path d="M 0 0  L -3.5 0" transform="translate(54.56 433.67)" style="stroke: #000000; stroke-width: 0.8"/>
      </g>
     </g>
     <g id="text_35">
      <text style="font-size: 10px; font-family: 'DejaVu Sans', 'Liberation Sans', sans-serif; text-anchor: end" x="47.56" y="437.47" transform="rotate(-0 47.56 437.47)">6</text>
     </g>
    </g>
    <g id="ytick_10">
     <g id="line2d_67">
      <path d="M 54.56 398.06  L 853.25 398.06 
" clip-path="url(#p7bbfe27c33)" style="fill: none; stroke-dasharray: 0.8,1.32; stroke-dashoffset: 0; stroke: #b0b0b0; stroke-opacity: 0.3; stroke-width: 0.8"/>
     </g>
     <g id="line2d_68">
      <g>
       <path d="M 0 0  L -3.5 0" transform="translate(54.56 398.06)" style="stroke: #000000; stroke-width: 0.8"/>
      </g>
     </g>
     <g id="text_36">
      <text style="font-size: 10px; font-family: 'DejaVu Sans', 'Liberation Sans', sans-serif; text-anchor: end" x="47.56" y="401.86" transform="rotate(-0 47.56 401.86)">8</text>
     </g>
    </g>
    <g id="ytick_11">
     <g id="line2d_69">
      <path d="M 54.56 362.45  L 853.25 362.45 
" clip-path="url(#p7bbfe27c33)" style="fill: none; stroke-dasharray: 0.8,1.32; stroke-dashoffset: 0; stroke: #b0b0b0; stroke-opacity: 0.3; stroke-width: 0.8"/>
     </g>
     <g id="line2d_70">
      <g>
       <path d="M 0 0  L -3.5 0" transform="translate(54.56 362.45)" style="stroke: #000000; stroke-width: 0.8"/>
      </g>
     </g>
     <g id="text_37">
      <text style="font-size: 10px; font-family: 'DejaVu Sans', 'Liberation Sans', sans-serif; text-anchor: end" x="47.56" y="366.25" transform="rotate(-0 47.56 366.25)" textLength="12.72">10</text>
     </g>
    </g>
    <g id="text_38">
     <text style="font-size: 12px; font-family: 'DejaVu Sans', 'Liberation Sans', sans-serif; text-anchor: middle" x="25.34" y="434.47" transform="rotate(-90 25.34 434.47)" textLength="111.57">Precipitation (mm)</text>
    </g>
   </g>
   <g id="patch_45">
    <path d="M 54.56 540.50  L 54.56 328.44 
" style="fill: none; stroke: #000000; stroke-width: 0.8; stroke-linejoin: miter; stroke-linecap: square"/>
   </g>
   <g id="patch_46">
    <path d="M 853.25 540.50  L 853.25 328.44 
" style="fill: none; stroke: #000000; stroke-width: 0.8; stroke-linejoin: miter; stroke-linecap: square"/>
   </g>
   <g id="patch_47">
    <path d="M 54.56 540.50  L 853.25 540.50 
" style="fill: none; stroke: #000000; stroke-width: 0.8; stroke-linejoin: miter; stroke-linecap: square"/>
   </g>
   <g id="patch_48">
    <path d="M 54.56 328.44  L 853.25 328.44 
" style="fill: none; stroke: #000000; stroke-width: 0.8; stroke-linejoin: miter; stroke-linecap: square"/>
   </g>
   <g id="text_39">
    <text style="font-size: 14px; font-family: 'DejaVu Sans', 'Liberation Sans', sans-serif; text-anchor: middle" x="453.90" y="322.44" transform="rotate(-0 453.90 322.44)" textLength="198.07">Daily Precipitation (28 days)</text>
   </g>
   <g id="legend_2">
    <g id="patch_49">
     <path d="M 767.41 366.1  L 846.25 366.1 
Q 848.25 366.1 848.25 364.1  L 848.25 335.44 
Q 848.25 333.44 846.25 333.44  L 767.41 333.44 
Q 765.41 333.44 765.41 335.44  L 765.41 364.1 
Q 765.41 366.1 767.41 366.1  z
" style="fill: #ffffff; opacity: 0.8; stroke: #cccccc; stroke-linejoin: miter"/>
    </g>
    <g id="patch_50">
     <path d="M 769.41 345.04  L 789.41 345.04  L 789.41 338.04  L 769.41 338.04  z
" style="fill: #1e90ff; opacity: 0.75"/>
    </g>
    <g id="text_40">
     <text style="font-size: 10px; font-family: 'DejaVu Sans', 'Liberation Sans', sans-serif; text-anchor: start" x="797.41" y="344.24" transform="rotate(-0 797.41 345.04)" textLength="46.84">Historical</text>
    </g>
    <g id="patch_51">
     <path d="M 769.41 360.02  L 789.41 360.02  L 789.41 353.02  L 769.41 353.02  z
" style="fill: #1e90ff; opacity: 0.5"/>
    </g>
    <g id="patch_52">
     <path d="M 769.41 360.02  L 789.41 360.02  L 789.41 353.02  L 769.41 353.02  z
" style="fill: url(#h9332872984)"/>
    </g>
    <g id="text_41">
     <text style="font-size: 10px; font-family: 'DejaVu Sans', 'Liberation Sans', sans-serif; text-anchor: start" x="797.41" y="359.22" transform="rotate(-0 797.41 360.02)" textLength="42.32">Forecast</text>
    </g>
   </g>
  </g>
  <g id="axes_3">
   <g id="patch_53">
    <path d="M 54.56 815.17  L 853.25 815.17  L 853.25 602.43  L 54.56 602.43  z
" style="fill: #ffffff"/>
   </g>
   <g id="matplotlib.axis_5">
    <g id="xtick_23">
     <g id="line2d_71">
      <path d="M 87.23 815.17  L 87.23 602.43 
" clip-path="url(#pa311f571ac)" style="fill: none; stroke-dasharray: 0.8,1.32; stroke-dashoffset: 0; stroke: #b0b0b0; stroke-opacity: 0.3; stroke-width: 0.8"/>
     </g>
     <g id="line2d_72">
      <g>
       <path d="M 0 0  L 0 3.5" transform="translate(87.23 815.17)" style="stroke: #000000; stroke-width: 0.8"/>
      </g>
     </g>
     <g id="text_42">
      <text style="font-size: 10px; font-family: 'DejaVu Sans', 'Liberation Sans', sans-serif; text-anchor: middle" x="87.23" y="829.77" transform="rotate(-0 87.23 829.77)" textLength="19.52">Nov</text>
     </g>
    </g>
    <g id="xtick_24">
     <g id="line2d_73">
      <path d="M 153.89 815.17  L 153.89 602.43 
" clip-path="url(#pa311f571ac)" style="fill: none; stroke-dasharray: 0.8,1.32; stroke-dashoffset: 0; stroke: #b0b0b0; stroke-opacity: 0.3; stroke-width: 0.8"/>
     </g>
     <g id="line2d_74">
      <g>
       <path d="M 0 0  L 0 3.5" transform="translate(153.89 815.17)" style="stroke: #000000; stroke-width: 0.8"/>
      </g>
     </g>
     <g id="text_43">
      <text style="font-size: 10px; font-family: 'DejaVu Sans', 'Liberation Sans', sans-serif; text-anchor: middle" x="153.89" y="829.77" transform="rotate(-0 153.89 829.77)" textLength="19.35">Dec</text>
     </g>
    </g>
    <g id="xtick_25">
     <g id="line2d_75">
      <path d="M 220.56 815.17  L 220.56 602.43 
" clip-path="url(#pa311f571ac)" style="fill: none; stroke-dasharray: 0.8,1.32; stroke-dashoffset: 0; stroke: #b0b0b0; stroke-opacity: 0.3; stroke-width: 0.8"/>
     </g>
     <g id="line2d_76">
      <g>
       <path d="M 0 0  L 0 3.5" transform="translate(220.56 815.17)" style="stroke: #000000; stroke-width: 0.8"/>
      </g>
     </g>
     <g id="text_44">
      <text style="font-size: 10px; font-family: 'DejaVu Sans', 'Liberation Sans', sans-serif; text-anchor: middle" x="220.56" y="829.77" transform="rotate(-0 220.56 829.77)" textLength="15.42">Jan</text>
     </g>
    </g>
    <g id="xtick_26">
     <g id="line2d_77">
      <path d="M 287.23 815.17  L 287.23 602.43 
" clip-path="url(#pa311f571ac)" style="fill: none; stroke-dasharray: 0.8,1.32; stroke-dashoffset: 0; stroke: #b0b0b0; stroke-opacity: 0.3; stroke-width: 0.8"/>
     </g>
     <g id="line2d_78">
      <g>
       <path d="M 0 0  L 0 3.5" transform="translate(287.23 815.17)" style="stroke: #000000; stroke-width: 0.8"/>
      </g>
     </g>
     <g id="text_45">
      <text style="font-size: 10px; font-family: 'DejaVu Sans', 'Liberation Sans', sans-serif; text-anchor: middle" x="287.23" y="829.77" transform="rotate(-0 287.23 829.77)" textLength="17.71">Feb</text>
     </g>
    </g>
    <g id="xtick_27">
     <g id="line2d_79">
      <path d="M 353.90 815.17  L 353.90 602.43 
" clip-path="url(#pa311f571ac)" style="fill: none; stroke-dasharray: 0.8,1.32; stroke-dashoffset: 0; stroke: #b0b0b0; stroke-opacity: 0.3; stroke-width: 0.8"/>
     </g>
     <g id="line2d_80">
      <g>
       <path d="M 0 0  L 0 3.5" transform="translate(353.90 815.17)" style="stroke: #000000; stroke-width: 0.8"/>
      </g>
     </g>
     <g id="text_46">
      <text style="font-size: 10px; font-family: 'DejaVu Sans', 'Liberation Sans', sans-serif; text-anchor: middle" x="353.90" y="829.77" transform="rotate(-0 353.90 829.77)" textLength="18.87">Mar</text>
     </g>
    </g>
    <g id="xtick_28">
     <g id="line2d_81">
      <path d="M 420.57 815.17  L 420.57 602.43 
" clip-path="url(#pa311f571ac)" style="fill: none; stroke-dasharray: 0.8,1.32; stroke-dashoffset: 0; stroke: #b0b0b0; stroke-opacity: 0.3; stroke-width: 0.8"/>
     </g>
     <g id="line2d_82">
      <g>
       <path d="M 0 0  L 0 3.5" transform="translate(420.57 815.17)" style="stroke: #000000; stroke-width: 0.8"/>
      </g>
     </g>
     <g id="text_47">
      <text style="font-size: 10px; font-family: 'DejaVu Sans', 'Liberation Sans', sans-serif; text-anchor: middle" x="420.57" y="829.77" transform="rotate(-0 420.57 829.77)" textLength="17.30">Apr</text>
     </g>
    </g>
    <g id="xtick_29">
     <g id="line2d_83">
      <path d="M 487.24 815.17  L 487.24 602.43 
" clip-path="url(#pa311f571ac)" style="fill: none; stroke-dasharray: 0.8,1.32; stroke-dashoffset: 0; stroke: #b0b0b0; stroke-opacity: 0.3; stroke-width: 0.8"/>
     </g>
     <g id="line2d_84">
      <g>
       <path d="M 0 0  L 0 3.5" transform="translate(487.24 815.17)" style="stroke: #000000; stroke-width: 0.8"/>
      </g>
     </g>
     <g id="text_48">
      <text style="font-size: 10px; font-family: 'DejaVu Sans', 'Liberation Sans', sans-serif; text-anchor: middle" x="487.24" y="829.77" transform="rotate(-0 487.24 829.77)" textLength="20.67">May</text>
     </g>
    </g>
    <g id="xtick_30">
     <g id="line2d_85">
      <path d="M 553.91 815.17  L 553.91 602.43 
" clip-path="url(#pa311f571ac)" style="fill: none; stroke-dasharray: 0.8,1.32; stroke-dashoffset: 0; stroke: #b0b0b0; stroke-opacity: 0.3; stroke-width: 0.8"/>
     </g>
     <g id="line2d_86">
      <g>
       <path d="M 0 0  L 0 3.5" transform="translate(553.91 815.17)" style="stroke: #000000; stroke-width: 0.8"/>
      </g>
     </g>
     <g id="text_49">
      <text style="font-size: 10px; font-family: 'DejaVu Sans', 'Liberation Sans', sans-serif; text-anchor: middle" x="553.91" y="829.77" transform="rotate(-0 553.91 829.77)" textLength="15.63">Jun</text>
     </g>
    </g>
    <g id="xtick_31">
     <g id="line2d_87">
      <path d="M 620.58 815.17  L 620.58 602.43 
" clip-path="url(#pa311f571ac)" style="fill: none; stroke-dasharray: 0.8,1.32; stroke-dashoffset: 0; stroke: #b0b0b0; stroke-opacity: 0.3; stroke-width: 0.8"/>
     </g>
     <g id="line2d_88">
      <g>
       <path d="M 0 0  L 0 3.5" transform="translate(620.58 815.17)" style="stroke: #000000; stroke-width: 0.8"/>
      </g>
     </g>
     <g id="text_50">
      <text style="font-size: 10px; font-family: 'DejaVu Sans', 'Liberation Sans', sans-serif; text-anchor: middle" x="620.58" y="829.77" transform="rotate(-0 620.58 829.77)" textLength="12.07">Jul</text>
     </g>
    </g>
    <g id="xtick_32">
     <g id="line2d_89">
      <path d="M 687.25 815.17  L 687.25 602.43 
" clip-path="url(#pa311f571ac)" style="fill: none; stroke-dasharray: 0.8,1.32; stroke-dashoffset: 0; stroke: #b0b0b0; stroke-opacity: 0.3; stroke-width: 0.8"/>
     </g>
     <g id="line2d_90">
      <g>
       <path d="M 0 0  L 0 3.5" transform="translate(687.25 815.17)" style="stroke: #000000; stroke-width: 0.8"/>
      </g>
     </g>
     <g id="text_51">
      <text style="font-size: 10px; font-family: 'DejaVu Sans', 'Liberation Sans', sans-serif; text-anchor: middle" x="687.25" y="829.77" transform="rotate(-0 687.25 829.77)" textLength="19.53">Aug</text>
     </g>
    </g>
    <g id="xtick_33">
     <g id="line2d_91">
      <path d="M 753.91 815.17  L 753.91 602.43 
" clip-path="url(#pa311f571ac)" style="fill: none; stroke-dasharray: 0.8,1.32; stroke-dashoffset: 0; stroke: #b0b0b0; stroke-opacity: 0.3; stroke-width: 0.8"/>
     </g>
     <g id="line2d_92">
      <g>
       <path d="M 0 0  L 0 3.5" transform="translate(753.91 815.17)" style="stroke: #000000; stroke-width: 0.8"/>
      </g>
     </g>
     <g id="text_52">
      <text style="font-size: 10px; font-family: 'DejaVu Sans', 'Liberation Sans', sans-serif; text-anchor: middle" x="753.91" y="829.77" transform="rotate(-0 753.91 829.77)" textLength="18.85">Sep</text>
     </g>
    </g>
    <g id="xtick_34">
     <g id="line2d_93">
      <path d="M 820.58 815.17  L 820.58 602.43 
" clip-path="url(#pa311f571ac)" style="fill: none; stroke-dasharray: 0.8,1.32; stroke-dashoffset: 0; stroke: #b0b0b0; stroke-opacity: 0.3; stroke-width: 0.8"/>
     </g>
     <g id="line2d_94">
      <g>
       <path d="M 0 0  L 0 3.5" transform="translate(820.58 815.17)" style="stroke: #000000; stroke-width: 0.8"/>
      </g>
     </g>
     <g id="text_53">
      <text style="font-size: 10px; font-family: 'DejaVu Sans', 'Liberation Sans', sans-serif; text-anchor: middle" x="820.58" y="829.77" transform="rotate(-0 820.58 829.77)" textLength="17.29">Oct</text>
     </g>
    </g>
   </g>
   <g id="matplotlib.axis_6">
    <g id="ytick_12">
     <g id="line2d_95">
      <path d="M 54.56 800.43  L 853.25 800.43 
" clip-path="url(#pa311f571ac)" style="fill: none; stroke-dasharray: 0.8,1.32; stroke-dashoffset: 0; stroke: #b0b0b0; stroke-opacity: 0.3; stroke-width: 0.8"/>
     </g>
     <g id="line2d_96">
      <g>
       <path d="M 0 0  L -3.5 0" transform="translate(54.56 800.43)" style="stroke: #000000; stroke-width: 0.8"/>
      </g>
     </g>
     <g id="text_54">
      <text style="font-size: 10px; font-family: 'DejaVu Sans', 'Liberation Sans', sans-serif; text-anchor: end" x="47.56" y="804.23" transform="rotate(-0 47.56 804.23)">0</text>
     </g>
    </g>
    <g id="ytick_13">
     <g id="line2d_97">
      <path d="M 54.56 762.83  L 853.25 762.83 
" clip-path="url(#pa311f571ac)" style="fill: none; stroke-dasharray: 0.8,1.32; stroke-dashoffset: 0; stroke: #b0b0b0; stroke-opacity: 0.3; stroke-width: 0.8"/>
     </g>
     <g id="line2d_98">
      <g>
       <path d="M 0 0  L -3.5 0" transform="translate(54.56 762.83)" style="stroke: #000000; stroke-width: 0.8"/>
      </g>
     </g>
     <g id="text_55">
      <text style="font-size: 10px; font-family: 'DejaVu Sans', 'Liberation Sans', sans-serif; text-anchor: end" x="47.56" y="766.63" transform="rotate(-0 47.56 766.63)">5</text>
     </g>
    </g>
    <g id="ytick_14">
     <g id="line2d_99">
      <path d="M 54.56 725.23  L 853.25 725.23 
" clip-path="url(#pa311f571ac)" style="fill: none; stroke-dasharray: 0.8,1.32; stroke-dashoffset: 0; stroke: #b0b0b0; stroke-opacity: 0.3; stroke-width: 0.8"/>
     </g>
     <g id="line2d_100">
      <g>
       <path d="M 0 0  L -3.5 0" transform="translate(54.56 725.23)" style="stroke: #000000; stroke-width: 0.8"/>
      </g>
     </g>
     <g id="text_56">
      <text style="font-size: 10px; font-family: 'DejaVu Sans', 'Liberation Sans', sans-serif; text-anchor: end" x="47.56" y="729.03" transform="rotate(-0 47.56 729.03)" textLength="12.72">10</text>
     </g>
    </g>
    <g id="ytick_15">
     <g id="line2d_101">
      <path d="M 54.56 687.63  L 853.25 687.63 
" clip-path="url(#pa311f571ac)" style="fill: none; stroke-dasharray: 0.8,1.32; stroke-dashoffset: 0; stroke: #b0b0b0; stroke-opacity: 0.3; stroke-width: 0.8"/>
     </g>
     <g id="line2d_102">
      <g>
       <path d="M 0 0  L -3.5 0" transform="translate(54.56 687.63)" style="stroke: #000000; stroke-width: 0.8"/>
      </g>
     </g>
     <g id="text_57">
      <text style="font-size: 10px; font-family: 'DejaVu Sans', 'Liberation Sans', sans-serif; text-anchor: end" x="47.56" y="691.43" transform="rotate(-0 47.56 691.43)" textLength="12.72">15</text>
     </g>
    </g>
    <g id="ytick_16">
     <g id="line2d_103">
      <path d="M 54.56 650.03  L 853.25 650.03 
" clip-path="url(#pa311f571ac)" style="fill: none; stroke-dasharray: 0.8,1.32; stroke-dashoffset: 0; stroke: #b0b0b0; stroke-opacity: 0.3; stroke-width: 0.8"/>
     </g>
     <g id="line2d_104">
      <g>
       <path d="M 0 0  L -3.5 0" transform="translate(54.56 650.03)" style="stroke: #000000; stroke-width: 0.8"/>
      </g>
     </g>
     <g id="text_58">
      <text style="font-size: 10px; font-family: 'DejaVu Sans', 'Liberation Sans', sans-serif; text-anchor: end" x="47.56" y="653.83" transform="rotate(-0 47.56 653.83)" textLength="12.72">20</text>
     </g>
    </g>
    <g id="ytick_17">
     <g id="line2d_105">
      <path d="M 54.56 612.43  L 853.25 612.43 
" clip-path="url(#pa311f571ac)" style="fill: none; stroke-dasharray: 0.8,1.32; stroke-dashoffset: 0; stroke: #b0b0b0; stroke-opacity: 0.3; stroke-width: 0.8"/>
     </g>
     <g id="line2d_106">
      <g>
       <path d="M 0 0  L -3.5 0" transform="translate(54.56 612.43)" style="stroke: #000000; stroke-width: 0.8"/>
      </g>
     </g>
     <g id="text_59">
      <text style="font-size: 10px; font-family: 'DejaVu Sans', 'Liberation Sans', sans-serif; text-anchor: end" x="47.56" y="616.23" transform="rotate(-0 47.56 616.23)" textLength="12.72">25</text>
     </g>
    </g>
    <g id="text_60">
     <text style="font-size: 12px; font-family: 'DejaVu Sans', 'Liberation Sans', sans-serif; text-anchor: middle" x="25.34" y="708.80" transform="rotate(-90 25.34 708.80)" textLength="103.57">Temperature (°C)</text>
    </g>
   </g>
   <g id="line2d_107">
    <path d="M 87.23 757.79  L 92.13 757.66  L 99.49 757.73  L 106.85 758.11  L 114.21 758.76  L 121.56 759.67  L 128.92 760.79  L 136.28 762.11  L 146.09 764.14  L 155.90 766.39  L 168.16 769.45  L 212.31 780.76  L 222.12 782.94  L 229.48 784.40  L 236.84 785.67  L 244.20 786.68  L 251.56 787.39  L 256.46 787.67  L 261.37 787.78  L 266.27 787.71  L 271.18 787.43  L 276.08 786.94  L 280.99 786.22  L 285.89 785.25  L 290.80 784.02  L 295.71 782.54  L 300.61 780.84  L 305.52 778.92  L 310.42 776.81  L 317.78 773.33  L 325.14 769.52  L 332.50 765.47  L 342.31 759.77  L 379.10 737.98  L 388.91 732.61  L 396.27 728.83  L 403.62 725.31  L 410.98 722.10  L 415.89 720.16  L 420.79 718.39  L 425.70 716.79  L 433.06 714.66  L 442.87 712.15  L 460.04 707.85  L 467.39 705.75  L 472.30 704.18  L 477.21 702.43  L 482.11 700.47  L 487.02 698.27  L 491.92 695.79  L 496.83 693.08  L 504.18 688.69  L 514.00 682.46  L 526.26 674.65  L 533.62 670.24  L 538.52 667.52  L 543.43 665.03  L 548.33 662.82  L 553.24 660.94  L 558.14 659.43  L 563.05 658.28  L 567.96 657.44  L 572.86 656.88  L 577.77 656.57  L 582.67 656.47  L 590.03 656.63  L 597.39 657.04  L 621.91 658.74  L 629.27 658.92  L 639.08 658.92  L 658.71 658.87  L 666.06 659.08  L 673.42 659.52  L 678.33 660.00  L 683.23 660.64  L 688.14 661.48  L 693.04 662.52  L 697.95 663.77  L 702.85 665.19  L 707.76 666.79  L 715.12 669.49  L 722.48 672.50  L 729.83 675.78  L 737.19 679.30  L 747.00 684.28  L 759.27 690.82  L 793.60 709.44  L 803.41 714.41  L 810.77 717.92  L 818.13 721.19  L 820.58 722.22  L 820.58 722.22 
" clip-path="url(#pa311f571ac)" style="fill: none; stroke: #ff5f0a; stroke-width: 3; stroke-linecap: square"/>
   </g>
   <g id="line2d_108">
    <path d="M 87.23 775.01  L 92.13 774.23  L 97.04 773.71  L 101.94 773.41  L 106.85 773.35  L 111.75 773.49  L 116.66 773.82  L 121.56 774.33  L 126.47 775.01  L 133.83 776.31  L 141.18 777.89  L 148.54 779.72  L 158.35 782.46  L 170.62 786.19  L 197.60 794.56  L 207.41 797.31  L 214.77 799.15  L 222.12 800.75  L 229.48 802.08  L 236.84 803.14  L 244.20 803.96  L 251.56 804.54  L 258.91 804.91  L 266.27 805.06  L 273.63 805.02  L 280.99 804.81  L 290.80 804.26  L 298.16 803.66  L 305.52 802.86  L 312.87 801.83  L 320.23 800.56  L 327.59 799.01  L 334.95 797.16  L 342.31 794.98  L 347.21 793.33  L 352.12 791.51  L 357.02 789.52  L 364.38 786.24  L 374.19 781.53  L 393.81 771.88  L 401.17 768.53  L 406.08 766.47  L 410.98 764.59  L 415.89 762.92  L 420.79 761.49  L 425.70 760.33  L 430.60 759.39  L 437.96 758.29  L 447.77 757.15  L 457.58 756.01  L 464.94 754.92  L 469.85 753.98  L 474.75 752.83  L 479.66 751.40  L 484.56 749.65  L 489.47 747.53  L 494.37 745.04  L 499.28 742.24  L 504.18 739.17  L 511.54 734.20  L 521.35 727.19  L 533.62 718.40  L 540.98 713.47  L 545.88 710.43  L 550.79 707.65  L 555.69 705.21  L 560.60 703.11  L 565.50 701.34  L 570.41 699.87  L 575.31 698.69  L 580.22 697.78  L 585.12 697.10  L 590.03 696.65  L 594.93 696.39  L 599.84 696.31  L 607.20 696.47  L 614.56 696.90  L 624.37 697.78  L 634.18 698.89  L 646.44 700.53  L 661.16 702.80  L 680.78 706.08  L 720.02 712.88  L 732.29 715.24  L 744.55 717.84  L 754.36 720.15  L 764.17 722.71  L 773.98 725.54  L 781.34 727.87  L 788.70 730.40  L 796.06 733.15  L 803.41 736.12  L 810.77 739.33  L 818.13 742.81  L 820.58 744.03  L 820.58 744.03 
" clip-path="url(#pa311f571ac)" style="fill: none; stroke: #ff8c00; stroke-opacity: 0.2; stroke-width: 3; stroke-linecap: square"/>
   </g>
   <g id="line2d_109">
    <path d="M 87.23 741.10  L 101.94 743.43  L 119.11 746.37  L 141.18 750.42  L 175.52 756.99  L 207.41 763.02  L 227.03 766.50  L 234.39 767.63  L 241.75 768.52  L 246.65 768.91  L 251.56 769.11  L 256.46 769.08  L 261.37 768.79  L 266.27 768.20  L 271.18 767.28  L 276.08 766.00  L 280.99 764.32  L 285.89 762.21  L 290.80 759.64  L 295.71 756.63  L 300.61 753.25  L 305.52 749.55  L 310.42 745.57  L 317.78 739.24  L 327.59 730.37  L 339.85 719.24  L 347.21 712.88  L 352.12 708.88  L 357.02 705.14  L 361.93 701.67  L 366.83 698.45  L 371.74 695.48  L 376.64 692.73  L 381.55 690.19  L 386.46 687.84  L 391.36 685.67  L 398.72 682.72  L 406.08 680.08  L 413.43 677.71  L 420.79 675.54  L 430.60 672.87  L 450.23 667.65  L 457.58 665.50  L 464.94 663.12  L 472.30 660.45  L 477.21 658.47  L 482.11 656.29  L 487.02 653.91  L 491.92 651.30  L 499.28 647.05  L 509.09 641.02  L 521.35 633.44  L 528.71 629.16  L 533.62 626.54  L 538.52 624.14  L 543.43 622.02  L 548.33 620.24  L 553.24 618.83  L 558.14 617.85  L 563.05 617.25  L 567.96 616.99  L 572.86 617.02  L 577.77 617.27  L 585.12 617.96  L 597.39 619.49  L 604.75 620.34  L 609.65 620.76  L 614.56 621.02  L 619.46 621.04  L 624.37 620.79  L 629.27 620.28  L 634.18 619.58  L 641.54 618.26  L 661.16 614.44  L 666.06 613.71  L 670.97 613.17  L 675.87 612.87  L 680.78 612.87  L 685.68 613.22  L 690.59 613.97  L 695.50 615.12  L 700.40 616.64  L 705.31 618.52  L 710.21 620.72  L 715.12 623.22  L 720.02 625.99  L 724.93 629.00  L 729.83 632.24  L 737.19 637.46  L 744.55 643.03  L 751.91 648.86  L 764.17 658.93  L 781.34 673.09  L 788.70 678.94  L 796.06 684.54  L 803.41 689.78  L 808.32 693.04  L 813.23 696.09  L 818.13 698.89  L 820.58 700.19  L 820.58 700.19 
" clip-path="url(#pa311f571ac)" style="fill: none; stroke: #ff8c00; stroke-opacity: 0.37; stroke-width: 3; stroke-linecap: square"/>
   </g>
   <g id="line2d_110">
    <path d="M 87.23 751.93  L 106.85 758.50  L 119.11 762.42  L 131.37 766.08  L 141.18 768.77  L 151.00 771.19  L 158.35 772.82  L 165.71 774.25  L 173.07 775.48  L 180.43 776.47  L 187.79 777.23  L 195.14 777.72  L 202.50 777.92  L 209.86 777.83  L 217.22 777.42  L 222.12 776.96  L 229.48 775.99  L 236.84 774.76  L 244.20 773.30  L 254.01 771.13  L 283.44 764.35  L 290.80 762.90  L 300.61 761.23  L 312.87 759.42  L 344.76 754.92  L 354.57 753.23  L 361.93 751.78  L 369.29 750.16  L 376.64 748.36  L 384.00 746.38  L 391.36 744.22  L 398.72 741.88  L 406.08 739.35  L 413.43 736.63  L 420.79 733.71  L 428.15 730.61  L 435.51 727.31  L 442.87 723.82  L 452.68 718.87  L 462.49 713.60  L 472.30 708.02  L 482.11 702.12  L 491.92 695.92  L 516.45 680.13  L 523.81 675.71  L 531.16 671.62  L 536.07 669.11  L 540.98 666.83  L 545.88 664.79  L 550.79 663.03  L 555.69 661.57  L 560.60 660.42  L 565.50 659.55  L 570.41 658.92  L 575.31 658.51  L 580.22 658.27  L 587.58 658.17  L 597.39 658.34  L 614.56 658.74  L 621.91 658.64  L 629.27 658.29  L 639.08 657.55  L 656.25 656.15  L 663.61 655.77  L 670.97 655.64  L 675.87 655.76  L 680.78 656.06  L 685.68 656.58  L 690.59 657.35  L 695.50 658.36  L 700.40 659.60  L 705.31 661.05  L 710.21 662.69  L 715.12 664.51  L 722.48 667.53  L 729.83 670.85  L 737.19 674.42  L 747.00 679.45  L 761.72 687.32  L 776.43 695.16  L 786.25 700.15  L 793.60 703.67  L 800.96 706.94  L 808.32 709.89  L 813.23 711.65  L 818.13 713.23  L 820.58 713.95  L 820.58 713.95 
" clip-path="url(#pa311f571ac)" style="fill: none; stroke-dasharray: 11.1,4.8; stroke-dashoffset: 0; stroke: #bdc3c7; stroke-opacity: 0.9; stroke-width: 3"/>
   </g>
   <g id="patch_54">
    <path d="M 54.56 815.17  L 54.56 602.43 
" style="fill: none; stroke: #000000; stroke-width: 0.8; stroke-linejoin: miter; stroke-linecap: square"/>
   </g>
   <g id="patch_55">
    <path d="M 853.25 815.17  L 853.25 602.43 
" style="fill: none; stroke: #000000; stroke-width: 0.8; stroke-linejoin: miter; stroke-linecap: square"/>
   </g>
   <g id="patch_56">
    <path d="M 54.56 815.17  L 853.25 815.17 
" style="fill: none; stroke: #000000; stroke-width: 0.8; stroke-linejoin: miter; stroke-linecap: square"/>
   </g>
   <g id="patch_57">
    <path d="M 54.56 602.43  L 853.25 602.43 
" style="fill: none; stroke: #000000; stroke-width: 0.8; stroke-linejoin: miter; stroke-linecap: square"/>
   </g>
   <g id="text_61">
    <text style="font-size: 14px; font-family: 'DejaVu Sans', 'Liberation Sans', sans-serif; text-anchor: middle" x="453.90" y="596.43" transform="rotate(-0 453.90 596.43)" textLength="149.19">Monthly Temperature</text>
   </g>
   <g id="legend_3">
    <g id="patch_58">
     <path d="M 61.56 670.83  L 150.63 670.83 
Q 152.63 670.83 152.63 668.83  L 152.63 610.22 
Q 152.63 608.22 150.63 608.22  L 61.56 608.22 
Q 59.56 608.22 59.56 610.22  L 59.56 668.83 
Q 59.56 670.83 61.56 670.83  z
" style="fill: #ffffff; opacity: 0.8; stroke: #cccccc; stroke-linejoin: miter"/>
    </g>
    <g id="line2d_111">
     <path d="M 63.56 616.32  L 73.56 616.32  L 83.56 616.32 
" style="fill: none; stroke: #ff5f0a; stroke-width: 3; stroke-linecap: square"/>
    </g>
    <g id="text_62">
     <text style="font-size: 10px; font-family: 'DejaVu Sans', 'Liberation Sans', sans-serif; text-anchor: start" x="91.56" y="619.02" transform="rotate(-0 91.56 619.82)" textLength="57.08">Temp Mean</text>
    </g>
    <g id="line2d_112">
     <path d="M 63.56 631.30  L 73.56 631.30  L 83.56 631.30 
" style="fill: none; stroke: #ff8c00; stroke-opacity: 0.2; stroke-width: 3; stroke-linecap: square"/>
    </g>
    <g id="text_63">
     <text style="font-size: 10px; font-family: 'DejaVu Sans', 'Liberation Sans', sans-serif; text-anchor: start" x="91.56" y="634.00" transform="rotate(-0 91.56 634.80)" textLength="47.57">Temp Min</text>
    </g>
    <g id="line2d_113">
     <path d="M 63.56 646.27  L 73.56 646.27  L 83.56 646.27 
" style="fill: none; stroke: #ff8c00; stroke-opacity: 0.37; stroke-width: 3; stroke-linecap: square"/>
    </g>
    <g id="text_64">
     <text style="font-size: 10px; font-family: 'DejaVu Sans', 'Liberation Sans', sans-serif; text-anchor: start" x="91.56" y="648.98" transform="rotate(-0 91.56 649.77)" textLength="50.50">Temp Max</text>
    </g>
    <g id="line2d_114">
     <path d="M 63.56 661.25  L 73.56 661.25  L 83.56 661.25 
" style="fill: none; stroke-dasharray: 11.1,4.8; stroke-dashoffset: 0; stroke: #bdc3c7; stroke-opacity: 0.9; stroke-width: 3"/>
    </g>
    <g id="text_65">
     <text style="font-size: 10px; font-family: 'DejaVu Sans', 'Liberation Sans', sans-serif; text-anchor: start" x="91.56" y="663.96" transform="rotate(-0 91.56 664.75)" textLength="46.20">Temp LTA</text>
    </g>
   </g>
  </g>
  <g id="axes_4">
   <g id="patch_59">
    <path d="M 54.56 1090.57  L 853.25 1090.57  L 853.25 877.44  L 54.56 877.44  z
" style="fill: #ffffff"/>
   </g>
   <g id="matplotlib.axis_7">
    <g id="xtick_35">
     <g id="line2d_115">
      <path d="M 90.86 1090.57  L 90.86 877.44 
" clip-path="url(#p8660e2ad76)" style="fill: none; stroke-dasharray: 0.8,1.32; stroke-dashoffset: 0; stroke: #b0b0b0; stroke-opacity: 0.3; stroke-width: 0.8"/>
     </g>
     <g id="line2d_116">
      <g>
       <path d="M 0 0  L 0 3.5" transform="translate(90.86 1090.57)" style="stroke: #000000; stroke-width: 0.8"/>
      </g>
     </g>
     <g id="text_66">
      <text style="font-size: 10px; font-family: 'DejaVu Sans', 'Liberation Sans', sans-serif" transform="translate(82.54 1123.49) rotate(-45)" textLength="29.06">10-20</text>
     </g>
    </g>
    <g id="xtick_36">
     <g id="line2d_117">
      <path d="M 171.54 1090.57  L 171.54 877.44 
" clip-path="url(#p8660e2ad76)" style="fill: none; stroke-dasharray: 0.8,1.32; stroke-dashoffset: 0; stroke: #b0b0b0; stroke-opacity: 0.3; stroke-width: 0.8"/>
     </g>
     <g id="line2d_118">
      <g>
       <path d="M 0 0  L 0 3.5" transform="translate(171.54 1090.57)" style="stroke: #000000; stroke-width: 0.8"/>
      </g>
     </g>
     <g id="text_67">
      <text style="font-size: 10px; font-family: 'DejaVu Sans', 'Liberation Sans', sans-serif" transform="translate(163.22 1123.49) rotate(-45)" textLength="29.06">10-23</text>
     </g>
    </g>
    <g id="xtick_37">
     <g id="line2d_119">
      <path d="M 252.21 1090.57  L 252.21 877.44 
" clip-path="url(#p8660e2ad76)" style="fill: none; stroke-dasharray: 0.8,1.32; stroke-dashoffset: 0; stroke: #b0b0b0; stroke-opacity: 0.3; stroke-width: 0.8"/>
     </g>
     <g id="line2d_120">
      <g>
       <path d="M 0 0  L 0 3.5" transform="translate(252.21 1090.57)" style="stroke: #000000; stroke-width: 0.8"/>
      </g>
     </g>
     <g id="text_68">
      <text style="font-size: 10px; font-family: 'DejaVu Sans', 'Liberation Sans', sans-serif" transform="translate(243.89 1123.49) rotate(-45)" textLength="29.06">10-26</text>
     </g>
    </g>
    <g id="xtick_38">
     <g id="line2d_121">
      <path d="M 332.89 1090.57  L 332.89 877.44 
" clip-path="url(#p8660e2ad76)" style="fill: none; stroke-dasharray: 0.8,1.32; stroke-dashoffset: 0; stroke: #b0b0b0; stroke-opacity: 0.3; stroke-width: 0.8"/>
     </g>
     <g id="line2d_122">
      <g>
       <path d="M 0 0  L 0 3.5" transform="translate(332.89 1090.57)" style="stroke: #000000; stroke-width: 0.8"/>
      </g>
     </g>
     <g id="text_69">
      <text style="font-size: 10px; font-family: 'DejaVu Sans', 'Liberation Sans', sans-serif" transform="translate(324.57 1123.49) rotate(-45)" textLength="29.06">10-29</text>
     </g>
    </g>
    <g id="xtick_39">
     <g id="line2d_123">
      <path d="M 413.57 1090.57  L 413.57 877.44 
" clip-path="url(#p8660e2ad76)" style="fill: none; stroke-dasharray: 0.8,1.32; stroke-dashoffset: 0; stroke: #b0b0b0; stroke-opacity: 0.3; stroke-width: 0.8"/>
     </g>
     <g id="line2d_124">
      <g>
       <path d="M 0 0  L 0 3.5" transform="translate(413.57 1090.57)" style="stroke: #000000; stroke-width: 0.8"/>
      </g>
     </g>
     <g id="text_70">
      <text style="font-size: 10px; font-family: 'DejaVu Sans', 'Liberation Sans', sans-serif" transform="translate(405.24 1123.49) rotate(-45)" textLength="29.06">11-01</text>
     </g>
    </g>
    <g id="xtick_40">
     <g id="line2d_125">
      <path d="M 494.24 1090.57  L 494.24 877.44 
" clip-path="url(#p8660e2ad76)" style="fill: none; stroke-dasharray: 0.8,1.32; stroke-dashoffset: 0; stroke: #b0b0b0; stroke-opacity: 0.3; stroke-width: 0.8"/>
     </g>
     <g id="line2d_126">
      <g>
       <path d="M 0 0  L 0 3.5" transform="translate(494.24 1090.57)" style="stroke: #000000; stroke-width: 0.8"/>
      </g>
     </g>
     <g id="text_71">
      <text style="font-size: 10px; font-family: 'DejaVu Sans', 'Liberation Sans', sans-serif" transform="translate(485.92 1123.49) rotate(-45)" textLength="29.06">11-04</text>
     </g>
    </g>
    <g id="xtick_41">
     <g id="line2d_127">
      <path d="M 574.92 1090.57  L 574.92 877.44 
" clip-path="url(#p8660e2ad76)" style="fill: none; stroke-dasharray: 0.8,1.32; stroke-dashoffset: 0; stroke: #b0b0b0; stroke-opacity: 0.3; stroke-width: 0.8"/>
     </g>
     <g id="line2d_128">
      <g>
       <path d="M 0 0  L 0 3.5" transform="translate(574.92 1090.57)" style="stroke: #000000; stroke-width: 0.8"/>
      </g>
     </g>
     <g id="text_72">
      <text style="font-size: 10px; font-family: 'DejaVu Sans', 'Liberation Sans', sans-serif" transform="translate(566.60 1123.49) rotate(-45)" textLength="29.06">11-07</text>
     </g>
    </g>
    <g id="xtick_42">
     <g id="line2d_129">
      <path d="M 655.59 1090.57  L 655.59 877.44 
" clip-path="url(#p8660e2ad76)" style="fill: none; stroke-dasharray: 0.8,1.32; stroke-dashoffset: 0; stroke: #b0b0b0; stroke-opacity: 0.3; stroke-width: 0.8"/>
     </g>
     <g id="line2d_130">
      <g>
       <path d="M 0 0  L 0 3.5" transform="translate(655.59 1090.57)" style="stroke: #000000; stroke-width: 0.8"/>
      </g>
     </g>
     <g id="text_73">
      <text style="font-size: 10px; font-family: 'DejaVu Sans', 'Liberation Sans', sans-serif" transform="translate(647.27 1123.49) rotate(-45)" textLength="29.06">11-10</text>
     </g>
    </g>
    <g id="xtick_43">
     <g id="line2d_131">
      <path d="M 736.27 1090.57  L 736.27 877.44 
" clip-path="url(#p8660e2ad76)" style="fill: none; stroke-dasharray: 0.8,1.32; stroke-dashoffset: 0; stroke: #b0b0b0; stroke-opacity: 0.3; stroke-width: 0.8"/>
     </g>
     <g id="line2d_132">
      <g>
       <path d="M 0 0  L 0 3.5" transform="translate(736.27 1090.57)" style="stroke: #000000; stroke-width: 0.8"/>
      </g>
     </g>
     <g id="text_74">
      <text style="font-size: 10px; font-family: 'DejaVu Sans', 'Liberation Sans', sans-serif" transform="translate(727.95 1123.49) rotate(-45)" textLength="29.06">11-13</text>
     </g>
    </g>
    <g id="xtick_44">
     <g id="line2d_133">
      <path d="M 816.95 1090.57  L 816.95 877.44 
" clip-path="url(#p8660e2ad76)" style="fill: none; stroke-dasharray: 0.8,1.32; stroke-dashoffset: 0; stroke: #b0b0b0; stroke-opacity: 0.3; stroke-width: 0.8"/>
     </g>
     <g id="line2d_134">
      <g>
       <path d="M 0 0  L 0 3.5" transform="translate(816.95 1090.57)" style="stroke: #000000; stroke-width: 0.8"/>
      </g>
     </g>
     <g id="text_75">
      <text style="font-size: 10px; font-family: 'DejaVu Sans', 'Liberation Sans', sans-serif" transform="translate(808.62 1123.49) rotate(-45)" textLength="29.06">11-16</text>
     </g>
    </g>
    <g id="text_76">
     <text style="font-size: 12px; font-family: 'DejaVu Sans', 'Liberation Sans', sans-serif; text-anchor: middle" x="453.90" y="1138.08" transform="rotate(-0 453.90 1138.08)" textLength="28.68">Date</text>
    </g>
   </g>
   <g id="matplotlib.axis_8">
    <g id="ytick_18">
     <g id="line2d_135">
      <path d="M 54.56 1084.49  L 853.25 1084.49 
" clip-path="url(#p8660e2ad76)" style="fill: none; stroke-dasharray: 0.8,1.32; stroke-dashoffset: 0; stroke: #b0b0b0; stroke-opacity: 0.3; stroke-width: 0.8"/>
     </g>
     <g id="line2d_136">
      <g>
       <path d="M 0 0  L -3.5 0" transform="translate(54.56 1084.49)" style="stroke: #000000; stroke-width: 0.8"/>
      </g>
     </g>
     <g id="text_77">
      <text style="font-size: 10px; font-family: 'DejaVu Sans', 'Liberation Sans', sans-serif; text-anchor: end" x="47.56" y="1088.29" transform="rotate(-0 47.56 1088.29)">0</text>
     </g>
    </g>
    <g id="ytick_19">
     <g id="line2d_137">
      <path d="M 54.56 1060.37  L 853.25 1060.37 
" clip-path="url(#p8660e2ad76)" style="fill: none; stroke-dasharray: 0.8,1.32; stroke-dashoffset: 0; stroke: #b0b0b0; stroke-opacity: 0.3; stroke-width: 0.8"/>
     </g>
     <g id="line2d_138">
      <g>
       <path d="M 0 0  L -3.5 0" transform="translate(54.56 1060.37)" style="stroke: #000000; stroke-width: 0.8"/>
      </g>
     </g>
     <g id="text_78">
      <text style="font-size: 10px; font-family: 'DejaVu Sans', 'Liberation Sans', sans-serif; text-anchor: end" x="47.56" y="1064.16" transform="rotate(-0 47.56 1064.16)">2</text>
     </g>
    </g>
    <g id="ytick_20">
     <g id="line2d_139">
      <path d="M 54.56 1036.24  L 853.25 1036.24 
" clip-path="url(#p8660e2ad76)" style="fill: none; stroke-dasharray: 0.8,1.32; stroke-dashoffset: 0; stroke: #b0b0b0; stroke-opacity: 0.3; stroke-width: 0.8"/>
     </g>
     <g id="line2d_140">
      <g>
       <path d="M 0 0  L -3.5 0" transform="translate(54.56 1036.24)" style="stroke: #000000; stroke-width: 0.8"/>
      </g>
     </g>
     <g id="text_79">
      <text style="font-size: 10px; font-family: 'DejaVu Sans', 'Liberation Sans', sans-serif; text-anchor: end" x="47.56" y="1040.04" transform="rotate(-0 47.56 1040.04)">4</text>
     </g>
    </g>
    <g id="ytick_21">
     <g id="line2d_141">
      <path d="M 54.56 1012.12  L 853.25 1012.12 
" clip-path="url(#p8660e2ad76)" style="fill: none; stroke-dasharray: 0.8,1.32; stroke-dashoffset: 0; stroke: #b0b0b0; stroke-opacity: 0.3; stroke-width: 0.8"/>
     </g>
     <g id="line2d_142">
      <g>
       <path d="M 0 0  L -3.5 0" transform="translate(54.56 1012.12)" style="stroke: #000000; stroke-width: 0.8"/>
      </g>
     </g>
     <g id="text_80">
      <text style="font-size: 10px; font-family: 'DejaVu Sans', 'Liberation Sans', sans-serif; text-anchor: end" x="47.56" y="1015.92" transform="rotate(-0 47.56 1015.92)">6</text>
     </g>
    </g>
    <g id="ytick_22">
     <g id="line2d_143">
      <path d="M 54.56 987.99  L 853.25 987.99 
" clip-path="url(#p8660e2ad76)" style="fill: none; stroke-dasharray: 0.8,1.32; stroke-dashoffset: 0; stroke: #b0b0b0; stroke-opacity: 0.3; stroke-width: 0.8"/>
     </g>
     <g id="line2d_144">
      <g>
       <path d="M 0 0  L -3.5 0" transform="translate(54.56 987.99)" style="stroke: #000000; stroke-width: 0.8"/>
      </g>
     </g>
     <g id="text_81">
      <text style="font-size: 10px; font-family: 'DejaVu Sans', 'Liberation Sans', sans-serif; text-anchor: end" x="47.56" y="991.79" transform="rotate(-0 47.56 991.79)">8</text>
     </g>
    </g>
    <g id="ytick_23">
     <g id="line2d_145">
      <path d="M 54.56 963.87  L 853.25 963.87 
" clip-path="url(#p8660e2ad76)" style="fill: none; stroke-dasharray: 0.8,1.32; stroke-dashoffset: 0; stroke: #b0b0b0; stroke-opacity: 0.3; stroke-width: 0.8"/>
     </g>
     <g id="line2d_146">
      <g>
       <path d="M 0 0  L -3.5 0" transform="translate(54.56 963.87)" style="stroke: #000000; stroke-width: 0.8"/>
      </g>
     </g>
     <g id="text_82">
      <text style="font-size: 10px; font-family: 'DejaVu Sans', 'Liberation Sans', sans-serif; text-anchor: end" x="47.56" y="967.67" transform="rotate(-0 47.56 967.67)" textLength="12.72">10</text>
     </g>
    </g>
    <g id="ytick_24">
     <g id="line2d_147">
      <path d="M 54.56 939.74  L 853.25 939.74 
" clip-path="url(#p8660e2ad76)" style="fill: none; stroke-dasharray: 0.8,1.32; stroke-dashoffset: 0; stroke: #b0b0b0; stroke-opacity: 0.3; stroke-width: 0.8"/>
     </g>
     <g id="line2d_148">
      <g>
       <path d="M 0 0  L -3.5 0" transform="translate(54.56 939.74)" style="stroke: #000000; stroke-width: 0.8"/>
      </g>
     </g>
     <g id="text_83">
      <text style="font-size: 10px; font-family: 'DejaVu Sans', 'Liberation Sans', sans-serif; text-anchor: end" x="47.56" y="943.54" transform="rotate(-0 47.56 943.54)" textLength="12.72">12</text>
     </g>
    </g>
    <g id="ytick_25">
     <g id="line2d_149">
      <path d="M 54.56 915.62  L 853.25 915.62 
" clip-path="url(#p8660e2ad76)" style="fill: none; stroke-dasharray: 0.8,1.32; stroke-dashoffset: 0; stroke: #b0b0b0; stroke-opacity: 0.3; stroke-width: 0.8"/>
     </g>
     <g id="line2d_150">
      <g>
       <path d="M 0 0  L -3.5 0" transform="translate(54.56 915.62)" style="stroke: #000000; stroke-width: 0.8"/>
      </g>
     </g>
     <g id="text_84">
      <text style="font-size: 10px; font-family: 'DejaVu Sans', 'Liberation Sans', sans-serif; text-anchor: end" x="47.56" y="919.42" transform="rotate(-0 47.56 919.42)" textLength="12.72">14</text>
     </g>
    </g>
    <g id="ytick_26">
     <g id="line2d_151">
      <path d="M 54.56 891.49  L 853.25 891.49 
" clip-path="url(#p8660e2ad76)" style="fill: none; stroke-dasharray: 0.8,1.32; stroke-dashoffset: 0; stroke: #b0b0b0; stroke-opacity: 0.3; stroke-width: 0.8"/>
     </g>
     <g id="line2d_152">
      <g>
       <path d="M 0 0  L -3.5 0" transform="translate(54.56 891.49)" style="stroke: #000000; stroke-width: 0.8"/>
      </g>
     </g>
     <g id="text_85">
      <text style="font-size: 10px; font-family: 'DejaVu Sans', 'Liberation Sans', sans-serif; text-anchor: end" x="47.56" y="895.29" transform="rotate(-0 47.56 895.29)" textLength="12.72">16</text>
     </g>
    </g>
    <g id="text_86">
     <text style="font-size: 12px; font-family: 'DejaVu Sans', 'Liberation Sans', sans-serif; text-anchor: middle" x="25.34" y="984.00" transform="rotate(-90 25.34 984.00)" textLength="103.57">Temperature (°C)</text>
    </g>
   </g>
   <g id="line2d_153">
    <path d="M 90.86 954.82  L 93.29 950.27  L 95.72 946.37  L 98.15 943.06  L 100.58 940.32  L 103.00 938.08  L 105.43 936.32  L 107.86 934.99  L 110.29 934.05  L 112.72 933.45  L 115.15 933.14  L 117.57 933.10  L 120.00 933.27  L 122.43 933.61  L 127.29 934.64  L 134.57 936.40  L 137.00 936.88  L 139.43 937.22  L 141.86 937.40  L 144.29 937.36  L 146.71 937.07  L 151.57 936.02  L 156.43 934.90  L 158.86 934.54  L 161.28 934.41  L 163.71 934.61  L 166.14 935.23  L 168.57 936.36  L 171.00 938.07  L 173.43 940.43  L 175.86 943.40  L 178.28 946.82  L 180.71 950.59  L 190.43 966.44  L 192.85 969.95  L 195.28 973.03  L 197.71 975.55  L 200.14 977.39  L 202.57 978.58  L 205.00 979.22  L 207.42 979.43  L 209.85 979.32  L 214.71 978.58  L 217.14 978.17  L 219.57 977.89  L 221.99 977.83  L 224.42 978.12  L 226.85 978.86  L 229.28 980.04  L 231.71 981.59  L 234.14 983.42  L 238.99 987.63  L 243.85 992.03  L 246.28 994.11  L 248.71 996.00  L 251.13 997.63  L 253.56 998.91  L 255.99 999.82  L 258.42 1000.38  L 260.85 1000.62  L 263.28 1000.55  L 265.71 1000.19  L 268.13 999.57  L 270.56 998.70  L 272.99 997.61  L 275.42 996.32  L 277.85 994.85  L 280.28 993.22  L 285.13 989.57  L 289.99 985.54  L 304.56 972.98  L 309.42 969.22  L 314.27 965.88  L 319.13 963.01  L 321.56 961.76  L 323.99 960.65  L 326.41 959.68  L 328.84 958.86  L 331.27 958.19  L 333.70 957.68  L 336.13 957.35  L 338.56 957.20  L 340.98 957.27  L 343.41 957.58  L 345.84 958.14  L 348.27 958.99  L 350.70 960.14  L 353.13 961.61  L 355.56 963.43  L 357.98 965.61  L 360.41 968.19  L 362.84 971.13  L 372.55 983.85  L 374.98 986.59  L 377.41 988.87  L 379.84 990.57  L 382.27 991.54  L 384.70 991.65  L 387.12 990.76  L 389.55 988.82  L 391.98 986.00  L 394.41 982.47  L 396.84 978.43  L 406.55 960.90  L 408.98 957.12  L 411.41 953.95  L 413.84 951.59  L 416.26 950.14  L 418.69 949.53  L 421.12 949.64  L 423.55 950.33  L 425.98 951.49  L 428.41 953.01  L 433.26 956.58  L 435.69 958.40  L 438.12 960.08  L 440.55 961.50  L 442.98 962.56  L 445.41 963.27  L 447.83 963.65  L 450.26 963.72  L 452.69 963.52  L 455.12 963.06  L 457.55 962.38  L 459.98 961.50  L 462.40 960.44  L 464.83 959.22  L 469.69 956.45  L 476.97 951.80  L 484.26 947.22  L 489.12 944.57  L 491.54 943.44  L 493.97 942.49  L 496.40 941.73  L 498.83 941.19  L 501.26 940.89  L 503.69 940.85  L 506.11 941.08  L 508.54 941.60  L 510.97 942.44  L 513.40 943.60  L 515.83 945.12  L 518.26 947.01  L 520.68 949.29  L 523.11 951.96  L 525.54 954.98  L 530.40 961.74  L 540.11 975.84  L 542.54 979.02  L 544.97 981.90  L 547.40 984.40  L 549.83 986.45  L 552.25 988.05  L 554.68 989.27  L 557.11 990.15  L 559.54 990.76  L 561.97 991.15  L 564.40 991.37  L 569.25 991.52  L 574.11 991.68  L 578.97 992.19  L 591.11 994.09  L 593.54 994.30  L 595.96 994.37  L 598.39 994.27  L 600.82 993.97  L 603.25 993.43  L 605.68 992.67  L 610.53 990.71  L 617.82 987.49  L 620.25 986.57  L 622.68 985.80  L 625.11 985.26  L 627.53 984.99  L 627.53 984.99 
" clip-path="url(#p8660e2ad76)" style="fill: none; stroke: #ff5f0a; stroke-width: 3; stroke-linecap: square"/>
   </g>
   <g id="line2d_154">
    <path d="M 629.96 985.05  L 632.39 985.43  L 634.82 986.08  L 637.25 986.93  L 639.68 987.92  L 642.10 989.01  L 644.53 990.11  L 646.96 991.18  L 649.39 992.15  L 651.82 992.97  L 654.25 993.56  L 656.67 993.89  L 659.10 993.92  L 661.53 993.70  L 663.96 993.28  L 666.39 992.68  L 668.82 991.95  L 671.24 991.14  L 673.67 990.27  L 676.10 989.40  L 678.53 988.57  L 680.96 987.81  L 683.39 987.16  L 685.81 986.64  L 688.24 986.20  L 690.67 985.80  L 693.10 985.39  L 695.53 984.93  L 697.96 984.37  L 700.38 983.68  L 702.81 982.80  L 705.24 981.70  L 707.67 980.33  L 710.10 978.65  L 712.53 976.65  L 714.96 974.40  L 717.38 971.96  L 719.81 969.39  L 722.24 966.79  L 724.67 964.19  L 727.10 961.69  L 729.53 959.34  L 731.95 957.22  L 734.38 955.39  L 736.81 953.92  L 739.24 952.87  L 741.67 952.25  L 744.10 952.07  L 746.52 952.34  L 748.95 953.09  L 751.38 954.31  L 753.81 956.03  L 756.24 958.25  L 758.67 961.00  L 761.09 964.27  L 763.52 968.09  L 765.95 972.44  L 768.38 977.28  L 770.81 982.54  L 773.24 988.15  L 775.66 994.07  L 778.09 1000.22  L 780.52 1006.55  L 782.95 1012.99  L 785.38 1019.48  L 787.81 1025.96  L 790.23 1032.37  L 792.66 1038.64  L 795.09 1044.72  L 797.52 1050.54  L 799.95 1056.04  L 802.38 1061.15  L 804.81 1065.83  L 807.23 1070.00  L 809.66 1073.60  L 812.09 1076.57  L 814.52 1078.86  L 816.95 1080.39 
" clip-path="url(#p8660e2ad76)" style="fill: none; stroke-dasharray: 3,4.95; stroke-dashoffset: 0; stroke: #ff5f0a; stroke-width: 3"/>
   </g>
   <g id="line2d_155">
    <path d="M 90.86 944.81  L 93.29 941.49  L 95.72 938.60  L 98.15 936.11  L 100.58 933.99  L 103.00 932.25  L 105.43 930.84  L 107.86 929.77  L 110.29 929.01  L 112.72 928.53  L 115.15 928.33  L 117.57 928.39  L 120.00 928.68  L 122.43 929.20  L 124.86 929.91  L 127.29 930.81  L 129.72 931.87  L 132.14 933.08  L 137.00 935.86  L 141.86 939.02  L 156.43 949.05  L 158.86 950.51  L 161.28 951.83  L 163.71 952.98  L 166.14 953.93  L 168.57 954.66  L 171.00 955.12  L 173.43 955.29  L 175.86 955.21  L 178.28 954.91  L 180.71 954.43  L 185.57 953.12  L 192.85 950.94  L 195.28 950.34  L 197.71 949.86  L 200.14 949.56  L 202.57 949.43  L 205.00 949.44  L 209.85 949.80  L 217.14 950.80  L 221.99 951.47  L 226.85 951.91  L 231.71 952.02  L 236.56 951.86  L 243.85 951.33  L 255.99 950.32  L 268.13 949.38  L 272.99 948.79  L 277.85 947.97  L 282.70 946.84  L 289.99 944.77  L 297.27 942.71  L 302.13 941.58  L 306.99 940.83  L 311.84 940.51  L 319.13 940.48  L 323.99 940.46  L 328.84 940.23  L 331.27 939.98  L 333.70 939.60  L 338.56 938.48  L 353.13 934.50  L 355.56 934.07  L 357.98 933.80  L 360.41 933.71  L 362.84 933.81  L 365.27 934.09  L 367.70 934.52  L 372.55 935.72  L 379.84 937.99  L 387.12 940.23  L 391.98 941.41  L 396.84 942.35  L 404.12 943.43  L 421.12 945.63  L 423.55 946.14  L 425.98 946.78  L 428.41 947.59  L 430.83 948.59  L 433.26 949.81  L 435.69 951.29  L 438.12 953.06  L 440.55 955.14  L 442.98 957.56  L 445.41 960.25  L 450.26 966.22  L 459.98 978.64  L 462.40 981.47  L 464.83 984.06  L 467.26 986.35  L 469.69 988.27  L 472.12 989.86  L 474.55 991.15  L 476.97 992.18  L 479.40 992.98  L 481.83 993.60  L 486.69 994.43  L 513.40 997.51  L 518.26 997.70  L 523.11 997.51  L 527.97 996.94  L 532.83 996.08  L 542.54 993.97  L 549.83 992.48  L 554.68 991.70  L 559.54 991.10  L 564.40 990.67  L 569.25 990.40  L 574.11 990.29  L 581.39 990.37  L 593.54 990.59  L 598.39 990.49  L 603.25 990.16  L 615.39 989.02  L 617.82 988.98  L 620.25 989.07  L 622.68 989.33  L 625.11 989.78  L 627.53 990.47  L 629.96 991.41  L 632.39 992.59  L 634.82 993.96  L 639.68 997.06  L 644.53 1000.25  L 646.96 1001.73  L 649.39 1003.08  L 651.82 1004.23  L 654.25 1005.12  L 656.67 1005.70  L 659.10 1005.97  L 661.53 1005.97  L 663.96 1005.76  L 668.82 1004.90  L 676.10 1003.30  L 678.53 1002.90  L 680.96 1002.65  L 683.39 1002.59  L 685.81 1002.76  L 688.24 1003.11  L 693.10 1004.22  L 705.24 1007.69  L 707.67 1008.21  L 710.10 1008.59  L 712.53 1008.81  L 714.96 1008.85  L 717.38 1008.72  L 719.81 1008.40  L 722.24 1007.90  L 724.67 1007.22  L 727.10 1006.35  L 729.53 1005.28  L 731.95 1004.01  L 734.38 1002.54  L 736.81 1000.87  L 739.24 999.00  L 744.10 994.86  L 753.81 986.20  L 756.24 984.22  L 758.67 982.42  L 761.09 980.82  L 763.52 979.49  L 765.95 978.44  L 768.38 977.68  L 770.81 977.19  L 773.24 976.95  L 775.66 976.95  L 778.09 977.19  L 780.52 977.64  L 782.95 978.29  L 785.38 979.13  L 787.81 980.15  L 790.23 981.33  L 792.66 982.66  L 797.52 985.71  L 802.38 989.21  L 807.23 993.04  L 814.52 999.17  L 816.95 1001.26  L 816.95 1001.26 
" clip-path="url(#p8660e2ad76)" style="fill: none; stroke-dasharray: 11.1,4.8; stroke-dashoffset: 0; stroke: #bdc3c7; stroke-opacity: 0.9; stroke-width: 3"/>
   </g>
   <g id="line2d_156">
    <path d="M 90.86 984.98  L 93.29 981.46  L 95.72 978.33  L 98.15 975.57  L 100.58 973.17  L 103.00 971.12  L 105.43 969.40  L 107.86 968.00  L 110.29 966.90  L 112.72 966.10  L 115.15 965.58  L 117.57 965.32  L 120.00 965.32  L 122.43 965.55  L 124.86 966.02  L 127.29 966.69  L 129.72 967.57  L 132.14 968.63  L 134.57 969.86  L 137.00 971.25  L 139.43 972.79  L 144.29 976.26  L 149.14 980.12  L 156.43 985.98  L 158.86 987.78  L 161.28 989.43  L 163.71 990.89  L 166.14 992.12  L 168.57 993.06  L 171.00 993.69  L 173.43 993.96  L 175.86 993.90  L 178.28 993.58  L 180.71 993.04  L 185.57 991.59  L 190.43 990.03  L 192.85 989.35  L 195.28 988.83  L 197.71 988.52  L 200.14 988.47  L 202.57 988.67  L 205.00 989.08  L 209.85 990.28  L 217.14 992.26  L 219.57 992.76  L 221.99 993.09  L 224.42 993.20  L 226.85 993.05  L 229.28 992.62  L 231.71 991.98  L 234.14 991.16  L 238.99 989.16  L 246.28 985.91  L 248.71 984.94  L 251.13 984.09  L 253.56 983.42  L 255.99 982.91  L 258.42 982.55  L 263.28 982.15  L 275.42 981.65  L 277.85 981.41  L 280.28 981.05  L 285.13 979.98  L 289.99 978.59  L 302.13 974.84  L 306.99 973.67  L 311.84 972.85  L 316.70 972.27  L 328.84 971.01  L 333.70 970.23  L 338.56 969.17  L 348.27 966.93  L 353.13 966.15  L 355.56 965.93  L 357.98 965.86  L 360.41 965.96  L 362.84 966.25  L 365.27 966.68  L 370.13 967.90  L 382.27 971.49  L 384.70 972.06  L 387.12 972.50  L 391.98 973.03  L 404.12 973.81  L 406.55 974.17  L 408.98 974.68  L 411.41 975.37  L 413.84 976.28  L 416.26 977.45  L 418.69 978.84  L 421.12 980.44  L 423.55 982.24  L 425.98 984.20  L 430.83 988.55  L 435.69 993.32  L 442.98 1000.89  L 450.26 1008.41  L 455.12 1013.04  L 457.55 1015.16  L 459.98 1017.11  L 462.40 1018.88  L 464.83 1020.42  L 467.26 1021.72  L 469.69 1022.76  L 472.12 1023.56  L 474.55 1024.15  L 476.97 1024.58  L 481.83 1025.06  L 493.97 1025.72  L 498.83 1026.42  L 508.54 1028.15  L 510.97 1028.46  L 513.40 1028.66  L 515.83 1028.71  L 518.26 1028.59  L 520.68 1028.25  L 523.11 1027.67  L 525.54 1026.87  L 527.97 1025.90  L 532.83 1023.59  L 542.54 1018.65  L 544.97 1017.58  L 547.40 1016.67  L 549.83 1015.94  L 552.25 1015.40  L 554.68 1015.03  L 557.11 1014.82  L 559.54 1014.75  L 564.40 1014.96  L 569.25 1015.53  L 576.54 1016.75  L 586.25 1018.46  L 591.11 1019.13  L 595.96 1019.55  L 600.82 1019.63  L 605.68 1019.30  L 617.82 1017.95  L 620.25 1017.86  L 622.68 1017.89  L 625.11 1018.09  L 627.53 1018.48  L 629.96 1019.10  L 632.39 1019.95  L 634.82 1020.97  L 639.68 1023.36  L 646.96 1027.14  L 649.39 1028.28  L 651.82 1029.28  L 654.25 1030.09  L 656.67 1030.68  L 659.10 1031.03  L 661.53 1031.19  L 663.96 1031.17  L 668.82 1030.79  L 678.53 1029.60  L 680.96 1029.42  L 683.39 1029.36  L 685.81 1029.44  L 688.24 1029.65  L 690.67 1030.00  L 693.10 1030.46  L 697.96 1031.74  L 702.81 1033.45  L 707.67 1035.54  L 719.81 1041.34  L 722.24 1042.14  L 724.67 1042.67  L 727.10 1042.85  L 729.53 1042.62  L 731.95 1041.91  L 734.38 1040.65  L 736.81 1038.79  L 739.24 1036.29  L 741.67 1033.28  L 744.10 1029.86  L 748.95 1022.29  L 753.81 1014.54  L 756.24 1010.89  L 758.67 1007.55  L 761.09 1004.64  L 763.52 1002.28  L 765.95 1000.53  L 768.38 999.38  L 770.81 998.77  L 773.24 998.64  L 775.66 998.95  L 778.09 999.65  L 780.52 1000.69  L 782.95 1002.01  L 785.38 1003.57  L 790.23 1007.19  L 799.95 1015.04  L 802.38 1016.83  L 804.81 1018.45  L 807.23 1019.85  L 809.66 1020.98  L 812.09 1021.79  L 814.52 1022.23  L 816.95 1022.25  L 816.95 1022.25 
" clip-path="url(#p8660e2ad76)" style="fill: none; stroke: #1e90ff; stroke-opacity: 0.3; stroke-width: 2; stroke-linecap: square"/>
   </g>
   <g id="line2d_157">
    <path d="M 90.86 906.51  L 93.29 901.86  L 95.72 897.92  L 98.15 894.62  L 100.58 891.95  L 103.00 889.85  L 105.43 888.29  L 107.86 887.22  L 110.29 886.61  L 112.72 886.41  L 115.15 886.59  L 117.57 887.10  L 120.00 887.91  L 122.43 888.97  L 124.86 890.24  L 127.29 891.69  L 132.14 894.95  L 141.86 901.80  L 144.29 903.34  L 146.71 904.74  L 149.14 905.99  L 151.57 907.10  L 154.00 908.07  L 156.43 908.91  L 158.86 909.63  L 163.71 910.73  L 168.57 911.41  L 173.43 911.72  L 178.28 911.71  L 183.14 911.45  L 188.00 910.99  L 195.28 910.04  L 209.85 907.98  L 214.71 907.47  L 219.57 907.17  L 224.42 907.14  L 229.28 907.44  L 234.14 908.03  L 238.99 908.84  L 246.28 910.33  L 258.42 912.91  L 263.28 913.61  L 265.71 913.79  L 268.13 913.84  L 270.56 913.72  L 272.99 913.41  L 275.42 912.89  L 277.85 912.13  L 280.28 911.11  L 282.70 909.85  L 287.56 906.84  L 294.85 901.95  L 297.27 900.46  L 299.70 899.14  L 302.13 898.05  L 304.56 897.24  L 306.99 896.77  L 309.42 896.66  L 311.84 896.85  L 314.27 897.29  L 316.70 897.91  L 321.56 899.51  L 326.41 901.20  L 328.84 901.94  L 331.27 902.54  L 333.70 902.94  L 336.13 903.12  L 338.56 903.11  L 340.98 902.96  L 345.84 902.35  L 353.13 901.24  L 357.98 900.81  L 360.41 900.79  L 362.84 900.94  L 365.27 901.25  L 367.70 901.69  L 372.55 902.90  L 377.41 904.44  L 396.84 911.19  L 401.69 912.57  L 406.55 913.72  L 411.41 914.60  L 416.26 915.17  L 423.55 915.84  L 425.98 916.16  L 428.41 916.60  L 430.83 917.20  L 433.26 917.99  L 435.69 919.03  L 438.12 920.33  L 440.55 921.96  L 442.98 923.92  L 445.41 926.17  L 447.83 928.68  L 452.69 934.20  L 462.40 945.85  L 464.83 948.57  L 467.26 951.11  L 469.69 953.43  L 472.12 955.51  L 474.55 957.37  L 476.97 959.02  L 479.40 960.45  L 481.83 961.68  L 484.26 962.72  L 486.69 963.57  L 489.12 964.23  L 491.54 964.72  L 493.97 965.05  L 496.40 965.21  L 498.83 965.23  L 503.69 964.96  L 508.54 964.41  L 518.26 963.22  L 523.11 962.96  L 527.97 963.03  L 535.26 963.46  L 542.54 963.86  L 547.40 963.89  L 552.25 963.57  L 557.11 962.95  L 561.97 962.08  L 569.25 960.49  L 583.82 957.19  L 588.68 956.30  L 593.54 955.61  L 598.39 955.17  L 603.25 955.06  L 608.11 955.33  L 612.96 956.00  L 615.39 956.50  L 617.82 957.12  L 620.25 957.86  L 622.68 958.73  L 625.11 959.73  L 627.53 960.86  L 632.39 963.52  L 646.96 972.30  L 649.39 973.48  L 651.82 974.48  L 654.25 975.25  L 656.67 975.76  L 659.10 976.01  L 661.53 976.05  L 663.96 975.90  L 668.82 975.23  L 678.53 973.58  L 680.96 973.35  L 683.39 973.26  L 685.81 973.34  L 690.67 973.84  L 700.38 975.09  L 702.81 975.22  L 705.24 975.21  L 707.67 975.00  L 710.10 974.57  L 712.53 973.89  L 714.96 973.00  L 717.38 971.94  L 722.24 969.41  L 736.81 961.19  L 741.67 959.08  L 746.52 957.38  L 751.38 956.02  L 756.24 954.92  L 763.52 953.55  L 768.38 952.76  L 773.24 952.20  L 775.66 952.05  L 778.09 952.02  L 780.52 952.12  L 782.95 952.38  L 785.38 952.81  L 787.81 953.44  L 790.23 954.29  L 792.66 955.37  L 795.09 956.70  L 797.52 958.32  L 799.95 960.22  L 802.38 962.45  L 804.81 965.00  L 807.23 967.92  L 809.66 971.21  L 812.09 974.89  L 814.52 978.99  L 816.95 983.53  L 816.95 983.53 
" clip-path="url(#p8660e2ad76)" style="fill: none; stroke: #ff5f0a; stroke-opacity: 0.5; stroke-width: 2; stroke-linecap: square"/>
   </g>
   <g id="patch_60">
    <path d="M 54.56 1090.57  L 54.56 877.44 
" style="fill: none; stroke: #000000; stroke-width: 0.8; stroke-linejoin: miter; stroke-linecap: square"/>
   </g>
   <g id="patch_61">
    <path d="M 853.25 1090.57  L 853.25 877.44 
" style="fill: none; stroke: #000000; stroke-width: 0.8; stroke-linejoin: miter; stroke-linecap: square"/>
   </g>
   <g id="patch_62">
    <path d="M 54.56 1090.57  L 853.25 1090.57 
" style="fill: none; stroke: #000000; stroke-width: 0.8; stroke-linejoin: miter; stroke-linecap: square"/>
   </g>
   <g id="patch_63">
    <path d="M 54.56 877.44  L 853.25 877.44 
" style="fill: none; stroke: #000000; stroke-width: 0.8; stroke-linejoin: miter; stroke-linecap: square"/>
   </g>
   <g id="text_87">
    <text style="font-size: 14px; font-family: 'DejaVu Sans', 'Liberation Sans', sans-serif; text-anchor: middle" x="453.90" y="871.44" transform="rotate(-0 453.90 871.44)" textLength="199.25">Daily Temperature (28 days)</text>
   </g>
   <g id="legend_4">
    <g id="patch_64">
     <path d="M 61.56 1084.89  L 144.06 1084.89 
Q 146.06 1084.89 146.06 1082.89  L 146.06 1009.30 
Q 146.06 1007.30 144.06 1007.30  L 61.56 1007.30 
Q 59.56 1007.30 59.56 1009.30  L 59.56 1082.89 
Q 59.56 1084.89 61.56 1084.89  z
" style="fill: #ffffff; opacity: 0.8; stroke: #cccccc; stroke-linejoin: miter"/>
    </g>
    <g id="line2d_158">
     <path d="M 63.56 1015.40  L 73.56 1015.40  L 83.56 1015.40 
" style="fill: none; stroke: #ff5f0a; stroke-width: 3; stroke-linecap: square"/>
    </g>
    <g id="text_88">
     <text style="font-size: 10px; font-family: 'DejaVu Sans', 'Liberation Sans', sans-serif; text-anchor: start" x="91.56" y="1018.11" transform="rotate(-0 91.56 1018.90)" textLength="37.56">Current</text>
    </g>
    <g id="line2d_159">
     <path d="M 63.56 1030.38  L 73.56 1030.38  L 83.56 1030.38 
" style="fill: none; stroke-dasharray: 3,4.95; stroke-dashoffset: 0; stroke: #ff5f0a; stroke-width: 3"/>
    </g>
    <g id="text_89">
     <text style="font-size: 10px; font-family: 'DejaVu Sans', 'Liberation Sans', sans-serif; text-anchor: start" x="91.56" y="1033.09" transform="rotate(-0 91.56 1033.88)" textLength="42.32">Forecast</text>
    </g>
    <g id="line2d_160">
     <path d="M 63.56 1045.36  L 73.56 1045.36  L 83.56 1045.36 
" style="fill: none; stroke-dasharray: 11.1,4.8; stroke-dashoffset: 0; stroke: #bdc3c7; stroke-opacity: 0.9; stroke-width: 3"/>
    </g>
    <g id="text_90">
     <text style="font-size: 10px; font-family: 'DejaVu Sans', 'Liberation Sans', sans-serif; text-anchor: start" x="91.56" y="1048.06" transform="rotate(-0 91.56 1048.86)" textLength="16.37">LTA</text>
    </g>
    <g id="line2d_161">
     <path d="M 63.56 1060.34  L 73.56 1060.34  L 83.56 1060.34 
" style="fill: none; stroke: #1e90ff; stroke-opacity: 0.3; stroke-width: 2; stroke-linecap: square"/>
    </g>
    <g id="text_91">
     <text style="font-size: 10px; font-family: 'DejaVu Sans', 'Liberation Sans', sans-serif; text-anchor: start" x="91.56" y="1063.04" transform="rotate(-0 91.56 1063.84)" textLength="47.57">Min Temp</text>
    </g>
    <g id="line2d_162">
     <path d="M 63.56 1075.32  L 73.56 1075.32  L 83.56 1075.32 
" style="fill: none; stroke: #ff5f0a; stroke-opacity: 0.5; stroke-width: 2; stroke-linecap: square"/>
    </g>
    <g id="text_92">
     <text style="font-size: 10px; font-family: 'DejaVu Sans', 'Liberation Sans', sans-serif; text-anchor: start" x="91.56" y="1078.02" transform="rotate(-0 91.56 1078.82)" textLength="50.50">Max Temp</text>
    </g>
   </g>
  </g>
  <g id="text_93">
   <text style="font-weight: 700; font-size: 16px; font-family: 'DejaVu Sans', 'Liberation Sans', sans-serif; text-anchor: middle" x="432" y="18.07" transform="rotate(-0 432 18.07)" textLength="612.64">Weather Charts for Sugarbeet in Germany as of November 09, 2025</text>
  </g>
 </g>
 <defs>
  <clipPath id="p1e38fe8f11">
   <rect x="54.56" y="53.43" width="798.69" height="212.28"/>
  </clipPath>
  <clipPath id="p7bbfe27c33">
   <rect x="54.56" y="328.44" width="798.69" height="212.06"/>
  </clipPath>
  <clipPath id="pa311f571ac">
   <rect x="54.56" y="602.43" width="798.69" height="212.73"/>
  </clipPath>
  <clipPath id="p8660e2ad76">
   <rect x="54.56" y="877.44" width="798.69" height="213.13"/>
  </clipPath>
 </defs>
 <defs>
  <pattern id="h9332872984" patternUnits="userSpaceOnUse" x="0" y="0" width="72" height="72">
   <rect x="0" y="0" width="73" height="73" fill="none"/>
   <path d="M -36 36  L 36 -36  M -32 40  L 40 -32  M -28 44  L 44 -28  M -24 48  L 48 -24  M -20 52  L 52 -20  M -16 56  L 56 -16  M -12 60  L 60 -12  M -8 64  L 64 -8  M -4 68  L 68 -4  M 0 72  L 72 0  M 4 76  L 76 4  M 8 80  L 80 8  M 12 84  L 84 12  M 16 88  L 88 16  M 20 92  L 92 20  M 24 96  L 96 24  M 28 100  L 100 28  M 32 104  L 104 32  M 36 108  L 108 36 
" style="fill: #000000; stroke: #000000; stroke-width: 1.0; stroke-linecap: butt; stroke-linejoin: miter"/>
  </pattern>
 </defs>
</svg>
</body></html>
